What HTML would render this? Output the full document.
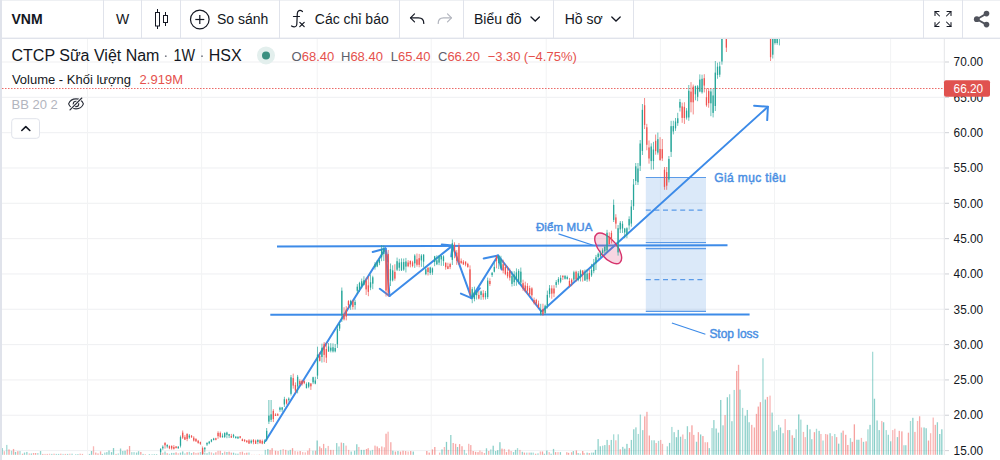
<!DOCTYPE html>
<html><head><meta charset="utf-8">
<style>
html,body{margin:0;padding:0;background:#fff;overflow:hidden;}
svg{display:block;}
text{font-family:"Liberation Sans",sans-serif;}
.tb{font-size:14px;fill:#131722;}
.ax{font-size:12.8px;fill:#131722;}
.lg{font-size:13px;fill:#131722;}
.red{fill:#e5514d;}
.gray{fill:#5d606b;}
.dr{font-size:12px;fill:#4a8fe3;stroke:#4a8fe3;stroke-width:0.45px;}
</style></head>
<body>
<svg width="1000" height="460" viewBox="0 0 1000 460">
<rect x="0" y="0" width="1000" height="460" fill="#ffffff"/>
<defs><clipPath id="cc"><rect x="2" y="39" width="942.5" height="416"/></clipPath></defs>
<g clip-path="url(#cc)">
<rect x="2" y="61.45" width="943" height="1.1" fill="#f0f1f3"/>
<rect x="2" y="96.78" width="943" height="1.1" fill="#f0f1f3"/>
<rect x="2" y="132.1" width="943" height="1.1" fill="#f0f1f3"/>
<rect x="2" y="167.43" width="943" height="1.1" fill="#f0f1f3"/>
<rect x="2" y="202.75" width="943" height="1.1" fill="#f0f1f3"/>
<rect x="2" y="238.07" width="943" height="1.1" fill="#f0f1f3"/>
<rect x="2" y="273.4" width="943" height="1.1" fill="#f0f1f3"/>
<rect x="2" y="308.72" width="943" height="1.1" fill="#f0f1f3"/>
<rect x="2" y="344.05" width="943" height="1.1" fill="#f0f1f3"/>
<rect x="2" y="379.38" width="943" height="1.1" fill="#f0f1f3"/>
<rect x="2" y="414.7" width="943" height="1.1" fill="#f0f1f3"/>
<rect x="2" y="450.03" width="943" height="1.1" fill="#f0f1f3"/>
<rect x="87" y="39" width="1" height="416" fill="#f2f3f4"/>
<rect x="201.1" y="39" width="1" height="416" fill="#f2f3f4"/>
<rect x="316.7" y="39" width="1" height="416" fill="#f2f3f4"/>
<rect x="430.7" y="39" width="1" height="416" fill="#f2f3f4"/>
<rect x="545.7" y="39" width="1" height="416" fill="#f2f3f4"/>
<rect x="659.9" y="39" width="1" height="416" fill="#f2f3f4"/>
<rect x="774" y="39" width="1" height="416" fill="#f2f3f4"/>
<rect x="890.1" y="39" width="1" height="416" fill="#f2f3f4"/>
<g><rect x="159.95" y="453.43" width="1.3" height="1.37" fill="#ef5350" fill-opacity="0.5"/>
<rect x="162.16" y="452.72" width="1.3" height="2.08" fill="#ef5350" fill-opacity="0.42"/>
<rect x="164.37" y="451.56" width="1.3" height="3.24" fill="#26a69a" fill-opacity="0.5"/>
<rect x="166.58" y="453.23" width="1.3" height="1.57" fill="#ef5350" fill-opacity="0.55"/>
<rect x="168.79" y="453.74" width="1.3" height="1.06" fill="#26a69a" fill-opacity="0.42"/>
<rect x="171" y="452.91" width="1.3" height="1.89" fill="#26a69a" fill-opacity="0.5"/>
<rect x="173.21" y="452.91" width="1.3" height="1.89" fill="#26a69a" fill-opacity="0.5"/>
<rect x="175.42" y="452.34" width="1.3" height="2.46" fill="#ef5350" fill-opacity="0.55"/>
<rect x="177.63" y="453.29" width="1.3" height="1.51" fill="#ef5350" fill-opacity="0.42"/>
<rect x="179.84" y="452.61" width="1.3" height="2.19" fill="#26a69a" fill-opacity="0.55"/>
<rect x="182.05" y="451.46" width="1.3" height="3.34" fill="#26a69a" fill-opacity="0.55"/>
<rect x="184.26" y="453.43" width="1.3" height="1.37" fill="#26a69a" fill-opacity="0.42"/>
<rect x="186.47" y="452.2" width="1.3" height="2.6" fill="#ef5350" fill-opacity="0.55"/>
<rect x="188.68" y="451.84" width="1.3" height="2.96" fill="#26a69a" fill-opacity="0.42"/>
<rect x="190.89" y="453.14" width="1.3" height="1.66" fill="#26a69a" fill-opacity="0.55"/>
<rect x="193.1" y="452.19" width="1.3" height="2.61" fill="#ef5350" fill-opacity="0.5"/>
<rect x="195.31" y="452.92" width="1.3" height="1.88" fill="#ef5350" fill-opacity="0.42"/>
<rect x="197.52" y="452.69" width="1.3" height="2.11" fill="#ef5350" fill-opacity="0.5"/>
<rect x="199.73" y="451.97" width="1.3" height="2.83" fill="#26a69a" fill-opacity="0.42"/>
<rect x="201.94" y="451.54" width="1.3" height="3.26" fill="#26a69a" fill-opacity="0.55"/>
<rect x="204.15" y="452.47" width="1.3" height="2.33" fill="#26a69a" fill-opacity="0.42"/>
<rect x="206.36" y="453.21" width="1.3" height="1.59" fill="#26a69a" fill-opacity="0.5"/>
<rect x="208.57" y="451.85" width="1.3" height="2.95" fill="#26a69a" fill-opacity="0.42"/>
<rect x="210.78" y="452.42" width="1.3" height="2.38" fill="#ef5350" fill-opacity="0.42"/>
<rect x="212.99" y="453.44" width="1.3" height="1.36" fill="#26a69a" fill-opacity="0.5"/>
<rect x="215.2" y="452.28" width="1.3" height="2.52" fill="#ef5350" fill-opacity="0.5"/>
<rect x="217.41" y="450.8" width="1.3" height="4" fill="#ef5350" fill-opacity="0.42"/>
<rect x="219.62" y="450.8" width="1.3" height="4" fill="#ef5350" fill-opacity="0.5"/>
<rect x="221.83" y="453.05" width="1.3" height="1.75" fill="#26a69a" fill-opacity="0.55"/>
<rect x="224.04" y="451.58" width="1.3" height="3.22" fill="#ef5350" fill-opacity="0.42"/>
<rect x="226.25" y="452.01" width="1.3" height="2.79" fill="#26a69a" fill-opacity="0.5"/>
<rect x="228.46" y="451.69" width="1.3" height="3.11" fill="#ef5350" fill-opacity="0.55"/>
<rect x="230.67" y="452.64" width="1.3" height="2.16" fill="#ef5350" fill-opacity="0.5"/>
<rect x="232.88" y="452.67" width="1.3" height="2.13" fill="#26a69a" fill-opacity="0.55"/>
<rect x="235.09" y="453.54" width="1.3" height="1.26" fill="#26a69a" fill-opacity="0.5"/>
<rect x="237.3" y="453.7" width="1.3" height="1.1" fill="#26a69a" fill-opacity="0.55"/>
<rect x="239.51" y="451.93" width="1.3" height="2.87" fill="#ef5350" fill-opacity="0.42"/>
<rect x="241.72" y="451.69" width="1.3" height="3.11" fill="#ef5350" fill-opacity="0.5"/>
<rect x="243.93" y="453.14" width="1.3" height="1.66" fill="#ef5350" fill-opacity="0.42"/>
<rect x="246.14" y="452.71" width="1.3" height="2.09" fill="#ef5350" fill-opacity="0.55"/>
<rect x="248.35" y="452.49" width="1.3" height="2.31" fill="#26a69a" fill-opacity="0.42"/>
<rect x="1.6" y="448.06" width="1.3" height="6.74" fill="#26a69a" fill-opacity="0.5"/>
<rect x="3.67" y="451.22" width="1.3" height="3.58" fill="#ef5350" fill-opacity="0.42"/>
<rect x="6.11" y="444.91" width="1.3" height="9.89" fill="#26a69a" fill-opacity="0.42"/>
<rect x="8.36" y="449.41" width="1.3" height="5.39" fill="#ef5350" fill-opacity="0.55"/>
<rect x="10.88" y="450.77" width="1.3" height="4.03" fill="#26a69a" fill-opacity="0.42"/>
<rect x="12.86" y="448.96" width="1.3" height="5.84" fill="#ef5350" fill-opacity="0.5"/>
<rect x="14.85" y="451.94" width="1.3" height="2.86" fill="#26a69a" fill-opacity="0.55"/>
<rect x="17.19" y="451.22" width="1.3" height="3.58" fill="#ef5350" fill-opacity="0.55"/>
<rect x="19.35" y="451.04" width="1.3" height="3.76" fill="#26a69a" fill-opacity="0.42"/>
<rect x="21.87" y="453.74" width="1.3" height="1.06" fill="#ef5350" fill-opacity="0.55"/>
<rect x="23.85" y="452.57" width="1.3" height="2.23" fill="#26a69a" fill-opacity="0.5"/>
<rect x="26.2" y="451.94" width="1.3" height="2.86" fill="#26a69a" fill-opacity="0.5"/>
<rect x="28.63" y="453.47" width="1.3" height="1.33" fill="#ef5350" fill-opacity="0.42"/>
<rect x="30.7" y="453.47" width="1.3" height="1.33" fill="#26a69a" fill-opacity="0.5"/>
<rect x="32.86" y="453.02" width="1.3" height="1.78" fill="#ef5350" fill-opacity="0.5"/>
<rect x="34.94" y="453.02" width="1.3" height="1.78" fill="#ef5350" fill-opacity="0.55"/>
<rect x="37.19" y="453.02" width="1.3" height="1.78" fill="#26a69a" fill-opacity="0.42"/>
<rect x="39.89" y="451.04" width="1.3" height="3.76" fill="#26a69a" fill-opacity="0.5"/>
<rect x="42.14" y="453.92" width="1.3" height="0.88" fill="#ef5350" fill-opacity="0.55"/>
<rect x="44.4" y="453.92" width="1.3" height="0.88" fill="#ef5350" fill-opacity="0.42"/>
<rect x="46.65" y="453.92" width="1.3" height="0.88" fill="#ef5350" fill-opacity="0.5"/>
<rect x="48.9" y="453.74" width="1.3" height="1.06" fill="#ef5350" fill-opacity="0.42"/>
<rect x="51.15" y="453.92" width="1.3" height="0.88" fill="#26a69a" fill-opacity="0.5"/>
<rect x="53.4" y="453.74" width="1.3" height="1.06" fill="#ef5350" fill-opacity="0.5"/>
<rect x="55.66" y="453.92" width="1.3" height="0.88" fill="#26a69a" fill-opacity="0.5"/>
<rect x="57.91" y="453.92" width="1.3" height="0.88" fill="#26a69a" fill-opacity="0.55"/>
<rect x="60.16" y="453.74" width="1.3" height="1.06" fill="#ef5350" fill-opacity="0.55"/>
<rect x="62.41" y="453.92" width="1.3" height="0.88" fill="#26a69a" fill-opacity="0.42"/>
<rect x="64.67" y="453.92" width="1.3" height="0.88" fill="#ef5350" fill-opacity="0.5"/>
<rect x="66.92" y="453.92" width="1.3" height="0.88" fill="#26a69a" fill-opacity="0.55"/>
<rect x="69.17" y="453.74" width="1.3" height="1.06" fill="#ef5350" fill-opacity="0.42"/>
<rect x="71.42" y="453.74" width="1.3" height="1.06" fill="#26a69a" fill-opacity="0.5"/>
<rect x="75.03" y="454.1" width="1.3" height="0.7" fill="#26a69a" fill-opacity="0.42"/>
<rect x="77.28" y="454.1" width="1.3" height="0.7" fill="#26a69a" fill-opacity="0.55"/>
<rect x="79.53" y="453.74" width="1.3" height="1.06" fill="#ef5350" fill-opacity="0.55"/>
<rect x="81.78" y="453.92" width="1.3" height="0.88" fill="#ef5350" fill-opacity="0.55"/>
<rect x="88.81" y="453.92" width="1.3" height="0.88" fill="#26a69a" fill-opacity="0.55"/>
<rect x="90.88" y="451.04" width="1.3" height="3.76" fill="#26a69a" fill-opacity="0.55"/>
<rect x="92.86" y="446.26" width="1.3" height="8.54" fill="#ef5350" fill-opacity="0.42"/>
<rect x="95.12" y="452.57" width="1.3" height="2.23" fill="#ef5350" fill-opacity="0.5"/>
<rect x="97.37" y="453.47" width="1.3" height="1.33" fill="#ef5350" fill-opacity="0.55"/>
<rect x="99.89" y="451.4" width="1.3" height="3.4" fill="#ef5350" fill-opacity="0.5"/>
<rect x="101.69" y="453.92" width="1.3" height="0.88" fill="#26a69a" fill-opacity="0.55"/>
<rect x="104.12" y="452.57" width="1.3" height="2.23" fill="#26a69a" fill-opacity="0.42"/>
<rect x="106.2" y="452.12" width="1.3" height="2.68" fill="#26a69a" fill-opacity="0.5"/>
<rect x="108.36" y="450.5" width="1.3" height="4.3" fill="#26a69a" fill-opacity="0.55"/>
<rect x="110.88" y="452.12" width="1.3" height="2.68" fill="#26a69a" fill-opacity="0.55"/>
<rect x="112.86" y="448.06" width="1.3" height="6.74" fill="#26a69a" fill-opacity="0.55"/>
<rect x="115.39" y="453.92" width="1.3" height="0.88" fill="#ef5350" fill-opacity="0.5"/>
<rect x="117.64" y="453.47" width="1.3" height="1.33" fill="#26a69a" fill-opacity="0.42"/>
<rect x="119.89" y="448.51" width="1.3" height="6.29" fill="#26a69a" fill-opacity="0.5"/>
<rect x="122.14" y="451.04" width="1.3" height="3.76" fill="#26a69a" fill-opacity="0.5"/>
<rect x="124.4" y="450.77" width="1.3" height="4.03" fill="#26a69a" fill-opacity="0.55"/>
<rect x="126.65" y="449.41" width="1.3" height="5.39" fill="#ef5350" fill-opacity="0.5"/>
<rect x="128.9" y="445.99" width="1.3" height="8.81" fill="#ef5350" fill-opacity="0.55"/>
<rect x="131.15" y="452.12" width="1.3" height="2.68" fill="#26a69a" fill-opacity="0.42"/>
<rect x="133.4" y="452.12" width="1.3" height="2.68" fill="#26a69a" fill-opacity="0.42"/>
<rect x="135.93" y="452.57" width="1.3" height="2.23" fill="#26a69a" fill-opacity="0.5"/>
<rect x="137.91" y="451.22" width="1.3" height="3.58" fill="#26a69a" fill-opacity="0.5"/>
<rect x="140.16" y="451.94" width="1.3" height="2.86" fill="#ef5350" fill-opacity="0.55"/>
<rect x="142.41" y="453.92" width="1.3" height="0.88" fill="#26a69a" fill-opacity="0.55"/>
<rect x="144.67" y="454.1" width="1.3" height="0.7" fill="#ef5350" fill-opacity="0.42"/>
<rect x="148.72" y="454.1" width="1.3" height="0.7" fill="#26a69a" fill-opacity="0.55"/>
<rect x="151.42" y="454.1" width="1.3" height="0.7" fill="#26a69a" fill-opacity="0.42"/>
<rect x="153.67" y="454.1" width="1.3" height="0.7" fill="#26a69a" fill-opacity="0.5"/>
<rect x="155.93" y="454.1" width="1.3" height="0.7" fill="#26a69a" fill-opacity="0.5"/>
<rect x="251.05" y="454.63" width="1.3" height="0.17" fill="#ef5350" fill-opacity="0.55"/>
<rect x="253.6" y="454.63" width="1.3" height="0.17" fill="#ef5350" fill-opacity="0.55"/>
<rect x="256.15" y="454.63" width="1.3" height="0.17" fill="#26a69a" fill-opacity="0.42"/>
<rect x="258.7" y="454.46" width="1.3" height="0.34" fill="#ef5350" fill-opacity="0.55"/>
<rect x="261.25" y="454.63" width="1.3" height="0.17" fill="#26a69a" fill-opacity="0.42"/>
<rect x="264.66" y="449.86" width="1.3" height="4.94" fill="#26a69a" fill-opacity="0.42"/>
<rect x="267.21" y="449.01" width="1.3" height="5.79" fill="#26a69a" fill-opacity="0.55"/>
<rect x="269.42" y="449.86" width="1.3" height="4.94" fill="#ef5350" fill-opacity="0.5"/>
<rect x="271.46" y="448.16" width="1.3" height="6.64" fill="#ef5350" fill-opacity="0.55"/>
<rect x="274.86" y="450.71" width="1.3" height="4.09" fill="#ef5350" fill-opacity="0.55"/>
<rect x="277.41" y="451.05" width="1.3" height="3.75" fill="#ef5350" fill-opacity="0.5"/>
<rect x="279.96" y="449.86" width="1.3" height="4.94" fill="#26a69a" fill-opacity="0.42"/>
<rect x="282.51" y="449.01" width="1.3" height="5.79" fill="#ef5350" fill-opacity="0.42"/>
<rect x="285.06" y="449.86" width="1.3" height="4.94" fill="#ef5350" fill-opacity="0.5"/>
<rect x="287.62" y="450.71" width="1.3" height="4.09" fill="#26a69a" fill-opacity="0.42"/>
<rect x="289.66" y="449.86" width="1.3" height="4.94" fill="#26a69a" fill-opacity="0.5"/>
<rect x="291.87" y="448.16" width="1.3" height="6.64" fill="#ef5350" fill-opacity="0.55"/>
<rect x="294.42" y="451.05" width="1.3" height="3.75" fill="#ef5350" fill-opacity="0.42"/>
<rect x="296.97" y="451.56" width="1.3" height="3.24" fill="#ef5350" fill-opacity="0.42"/>
<rect x="299.52" y="451.05" width="1.3" height="3.75" fill="#ef5350" fill-opacity="0.55"/>
<rect x="302.07" y="452.07" width="1.3" height="2.73" fill="#ef5350" fill-opacity="0.42"/>
<rect x="304.62" y="452.41" width="1.3" height="2.39" fill="#ef5350" fill-opacity="0.42"/>
<rect x="307.17" y="450.71" width="1.3" height="4.09" fill="#ef5350" fill-opacity="0.5"/>
<rect x="308.87" y="448.16" width="1.3" height="6.64" fill="#ef5350" fill-opacity="0.42"/>
<rect x="312.28" y="450.71" width="1.3" height="4.09" fill="#26a69a" fill-opacity="0.42"/>
<rect x="314.83" y="450.71" width="1.3" height="4.09" fill="#ef5350" fill-opacity="0.5"/>
<rect x="316.53" y="440.51" width="1.3" height="14.29" fill="#26a69a" fill-opacity="0.55"/>
<rect x="319.08" y="446.46" width="1.3" height="8.34" fill="#ef5350" fill-opacity="0.5"/>
<rect x="320.78" y="448.16" width="1.3" height="6.64" fill="#ef5350" fill-opacity="0.5"/>
<rect x="322.99" y="443.91" width="1.3" height="10.89" fill="#ef5350" fill-opacity="0.5"/>
<rect x="325.03" y="448.16" width="1.3" height="6.64" fill="#26a69a" fill-opacity="0.42"/>
<rect x="327.58" y="445.95" width="1.3" height="8.85" fill="#ef5350" fill-opacity="0.42"/>
<rect x="330.13" y="449.86" width="1.3" height="4.94" fill="#ef5350" fill-opacity="0.55"/>
<rect x="332.68" y="449.86" width="1.3" height="4.94" fill="#ef5350" fill-opacity="0.42"/>
<rect x="336.08" y="443.06" width="1.3" height="11.74" fill="#26a69a" fill-opacity="0.5"/>
<rect x="338.3" y="446.46" width="1.3" height="8.34" fill="#26a69a" fill-opacity="0.42"/>
<rect x="340.68" y="442.55" width="1.3" height="12.25" fill="#ef5350" fill-opacity="0.5"/>
<rect x="342.89" y="443.06" width="1.3" height="11.74" fill="#26a69a" fill-opacity="0.5"/>
<rect x="345.44" y="445.61" width="1.3" height="9.19" fill="#ef5350" fill-opacity="0.42"/>
<rect x="347.99" y="449.86" width="1.3" height="4.94" fill="#ef5350" fill-opacity="0.42"/>
<rect x="350.54" y="451.56" width="1.3" height="3.24" fill="#26a69a" fill-opacity="0.5"/>
<rect x="353.94" y="450.71" width="1.3" height="4.09" fill="#26a69a" fill-opacity="0.5"/>
<rect x="356.15" y="444.25" width="1.3" height="10.55" fill="#26a69a" fill-opacity="0.55"/>
<rect x="358.19" y="446.97" width="1.3" height="7.83" fill="#ef5350" fill-opacity="0.42"/>
<rect x="360.74" y="449.86" width="1.3" height="4.94" fill="#26a69a" fill-opacity="0.55"/>
<rect x="363.3" y="449.86" width="1.3" height="4.94" fill="#26a69a" fill-opacity="0.55"/>
<rect x="365.85" y="449.01" width="1.3" height="5.79" fill="#ef5350" fill-opacity="0.5"/>
<rect x="367.55" y="448.16" width="1.3" height="6.64" fill="#ef5350" fill-opacity="0.5"/>
<rect x="369.76" y="450.71" width="1.3" height="4.09" fill="#26a69a" fill-opacity="0.42"/>
<rect x="371.8" y="449.86" width="1.3" height="4.94" fill="#26a69a" fill-opacity="0.42"/>
<rect x="374.35" y="445.61" width="1.3" height="9.19" fill="#ef5350" fill-opacity="0.5"/>
<rect x="376.56" y="446.46" width="1.3" height="8.34" fill="#ef5350" fill-opacity="0.55"/>
<rect x="378.6" y="448.16" width="1.3" height="6.64" fill="#ef5350" fill-opacity="0.55"/>
<rect x="381.15" y="446.46" width="1.3" height="8.34" fill="#ef5350" fill-opacity="0.5"/>
<rect x="383.7" y="447.31" width="1.3" height="7.49" fill="#ef5350" fill-opacity="0.42"/>
<rect x="385.4" y="433.71" width="1.3" height="21.09" fill="#ef5350" fill-opacity="0.55"/>
<rect x="387.45" y="431.67" width="1.3" height="23.13" fill="#ef5350" fill-opacity="0.42"/>
<rect x="390.17" y="442.21" width="1.3" height="12.59" fill="#ef5350" fill-opacity="0.5"/>
<rect x="392.21" y="450.71" width="1.3" height="4.09" fill="#26a69a" fill-opacity="0.55"/>
<rect x="394.76" y="451.56" width="1.3" height="3.24" fill="#ef5350" fill-opacity="0.55"/>
<rect x="397.31" y="451.05" width="1.3" height="3.75" fill="#26a69a" fill-opacity="0.55"/>
<rect x="399.86" y="451.56" width="1.3" height="3.24" fill="#ef5350" fill-opacity="0.55"/>
<rect x="402.41" y="450.71" width="1.3" height="4.09" fill="#ef5350" fill-opacity="0.55"/>
<rect x="404.96" y="451.05" width="1.3" height="3.75" fill="#ef5350" fill-opacity="0.5"/>
<rect x="407.51" y="451.56" width="1.3" height="3.24" fill="#ef5350" fill-opacity="0.42"/>
<rect x="410.06" y="451.05" width="1.3" height="3.75" fill="#ef5350" fill-opacity="0.55"/>
<rect x="412.62" y="451.56" width="1.3" height="3.24" fill="#26a69a" fill-opacity="0.55"/>
<rect x="426.15" y="451" width="1.3" height="3.8" fill="#ef5350" fill-opacity="0.55"/>
<rect x="428.55" y="452.6" width="1.3" height="2.2" fill="#ef5350" fill-opacity="0.55"/>
<rect x="431.75" y="449.4" width="1.3" height="5.4" fill="#ef5350" fill-opacity="0.55"/>
<rect x="434.15" y="447" width="1.3" height="7.8" fill="#ef5350" fill-opacity="0.55"/>
<rect x="438.95" y="452.6" width="1.3" height="2.2" fill="#ef5350" fill-opacity="0.42"/>
<rect x="441.35" y="449.4" width="1.3" height="5.4" fill="#26a69a" fill-opacity="0.55"/>
<rect x="443.75" y="447" width="1.3" height="7.8" fill="#ef5350" fill-opacity="0.42"/>
<rect x="445.83" y="441.88" width="1.3" height="12.92" fill="#26a69a" fill-opacity="0.55"/>
<rect x="447.75" y="449.88" width="1.3" height="4.92" fill="#ef5350" fill-opacity="0.42"/>
<rect x="450.15" y="435" width="1.3" height="19.8" fill="#26a69a" fill-opacity="0.5"/>
<rect x="452.55" y="443" width="1.3" height="11.8" fill="#ef5350" fill-opacity="0.5"/>
<rect x="454.95" y="443.8" width="1.3" height="11" fill="#ef5350" fill-opacity="0.5"/>
<rect x="456.87" y="447" width="1.3" height="7.8" fill="#26a69a" fill-opacity="0.5"/>
<rect x="458.95" y="444.12" width="1.3" height="10.68" fill="#ef5350" fill-opacity="0.55"/>
<rect x="461.35" y="446.2" width="1.3" height="8.6" fill="#ef5350" fill-opacity="0.55"/>
<rect x="463.75" y="449.88" width="1.3" height="4.92" fill="#26a69a" fill-opacity="0.42"/>
<rect x="465.67" y="453.4" width="1.3" height="1.4" fill="#26a69a" fill-opacity="0.5"/>
<rect x="468.07" y="443.8" width="1.3" height="11" fill="#ef5350" fill-opacity="0.42"/>
<rect x="470.15" y="445.08" width="1.3" height="9.72" fill="#ef5350" fill-opacity="0.5"/>
<rect x="472.55" y="451" width="1.3" height="3.8" fill="#ef5350" fill-opacity="0.55"/>
<rect x="474.95" y="451.8" width="1.3" height="3" fill="#ef5350" fill-opacity="0.55"/>
<rect x="477.35" y="452.12" width="1.3" height="2.68" fill="#ef5350" fill-opacity="0.55"/>
<rect x="479.27" y="450.52" width="1.3" height="4.28" fill="#ef5350" fill-opacity="0.42"/>
<rect x="481.35" y="451.8" width="1.3" height="3" fill="#ef5350" fill-opacity="0.5"/>
<rect x="483.75" y="453.08" width="1.3" height="1.72" fill="#ef5350" fill-opacity="0.5"/>
<rect x="485.83" y="448.28" width="1.3" height="6.52" fill="#26a69a" fill-opacity="0.5"/>
<rect x="488.07" y="451" width="1.3" height="3.8" fill="#ef5350" fill-opacity="0.5"/>
<rect x="490.15" y="449.4" width="1.3" height="5.4" fill="#26a69a" fill-opacity="0.42"/>
<rect x="492.55" y="445.72" width="1.3" height="9.08" fill="#26a69a" fill-opacity="0.55"/>
<rect x="494.95" y="451" width="1.3" height="3.8" fill="#26a69a" fill-opacity="0.5"/>
<rect x="497.03" y="450.2" width="1.3" height="4.6" fill="#26a69a" fill-opacity="0.55"/>
<rect x="499.27" y="442.2" width="1.3" height="12.6" fill="#26a69a" fill-opacity="0.55"/>
<rect x="501.35" y="448.6" width="1.3" height="6.2" fill="#ef5350" fill-opacity="0.55"/>
<rect x="503.75" y="448.92" width="1.3" height="5.88" fill="#ef5350" fill-opacity="0.42"/>
<rect x="505.83" y="452.12" width="1.3" height="2.68" fill="#ef5350" fill-opacity="0.55"/>
<rect x="508.23" y="449.4" width="1.3" height="5.4" fill="#ef5350" fill-opacity="0.5"/>
<rect x="510.47" y="451" width="1.3" height="3.8" fill="#ef5350" fill-opacity="0.42"/>
<rect x="512.87" y="452.12" width="1.3" height="2.68" fill="#26a69a" fill-opacity="0.5"/>
<rect x="514.95" y="449.88" width="1.3" height="4.92" fill="#26a69a" fill-opacity="0.5"/>
<rect x="516.87" y="448.12" width="1.3" height="6.68" fill="#26a69a" fill-opacity="0.42"/>
<rect x="519.27" y="449.88" width="1.3" height="4.92" fill="#ef5350" fill-opacity="0.42"/>
<rect x="521.67" y="451.8" width="1.3" height="3" fill="#26a69a" fill-opacity="0.5"/>
<rect x="523.75" y="452.6" width="1.3" height="2.2" fill="#ef5350" fill-opacity="0.55"/>
<rect x="526.15" y="452.6" width="1.3" height="2.2" fill="#26a69a" fill-opacity="0.42"/>
<rect x="528.55" y="452.6" width="1.3" height="2.2" fill="#ef5350" fill-opacity="0.42"/>
<rect x="530.47" y="452.6" width="1.3" height="2.2" fill="#26a69a" fill-opacity="0.55"/>
<rect x="532.55" y="452.6" width="1.3" height="2.2" fill="#26a69a" fill-opacity="0.42"/>
<rect x="534.95" y="453.72" width="1.3" height="1.08" fill="#ef5350" fill-opacity="0.55"/>
<rect x="537.35" y="453.4" width="1.3" height="1.4" fill="#26a69a" fill-opacity="0.5"/>
<rect x="539.75" y="451.48" width="1.3" height="3.32" fill="#ef5350" fill-opacity="0.42"/>
<rect x="541.83" y="451.48" width="1.3" height="3.32" fill="#ef5350" fill-opacity="0.55"/>
<rect x="543.75" y="453.72" width="1.3" height="1.08" fill="#26a69a" fill-opacity="0.5"/>
<rect x="546.15" y="450.52" width="1.3" height="4.28" fill="#26a69a" fill-opacity="0.55"/>
<rect x="548.55" y="452.12" width="1.3" height="2.68" fill="#ef5350" fill-opacity="0.42"/>
<rect x="550.47" y="453.72" width="1.3" height="1.08" fill="#26a69a" fill-opacity="0.55"/>
<rect x="552.87" y="448.92" width="1.3" height="5.88" fill="#26a69a" fill-opacity="0.5"/>
<rect x="554.95" y="452.12" width="1.3" height="2.68" fill="#ef5350" fill-opacity="0.55"/>
<rect x="557.35" y="452.12" width="1.3" height="2.68" fill="#ef5350" fill-opacity="0.42"/>
<rect x="559.75" y="452.12" width="1.3" height="2.68" fill="#26a69a" fill-opacity="0.55"/>
<rect x="566.14" y="452.25" width="1.3" height="2.55" fill="#ef5350" fill-opacity="0.5"/>
<rect x="567.94" y="452.85" width="1.3" height="1.95" fill="#ef5350" fill-opacity="0.55"/>
<rect x="570.93" y="452.25" width="1.3" height="2.55" fill="#ef5350" fill-opacity="0.5"/>
<rect x="572.72" y="451.05" width="1.3" height="3.75" fill="#26a69a" fill-opacity="0.5"/>
<rect x="575.71" y="450.45" width="1.3" height="4.35" fill="#ef5350" fill-opacity="0.55"/>
<rect x="577.51" y="453.09" width="1.3" height="1.71" fill="#26a69a" fill-opacity="0.5"/>
<rect x="579.66" y="453.44" width="1.3" height="1.36" fill="#26a69a" fill-opacity="0.42"/>
<rect x="582.05" y="451.05" width="1.3" height="3.75" fill="#ef5350" fill-opacity="0.55"/>
<rect x="583.49" y="453.09" width="1.3" height="1.71" fill="#ef5350" fill-opacity="0.42"/>
<rect x="586.48" y="452.61" width="1.3" height="2.19" fill="#26a69a" fill-opacity="0.5"/>
<rect x="588.63" y="453.09" width="1.3" height="1.71" fill="#ef5350" fill-opacity="0.55"/>
<rect x="590.91" y="452.61" width="1.3" height="2.19" fill="#26a69a" fill-opacity="0.42"/>
<rect x="592.82" y="452.61" width="1.3" height="2.19" fill="#26a69a" fill-opacity="0.55"/>
<rect x="594.85" y="449.86" width="1.3" height="4.94" fill="#26a69a" fill-opacity="0.55"/>
<rect x="597.48" y="439.09" width="1.3" height="15.71" fill="#26a69a" fill-opacity="0.5"/>
<rect x="599.64" y="446.27" width="1.3" height="8.53" fill="#26a69a" fill-opacity="0.55"/>
<rect x="602.03" y="445.67" width="1.3" height="9.13" fill="#26a69a" fill-opacity="0.42"/>
<rect x="604.18" y="445.07" width="1.3" height="9.73" fill="#26a69a" fill-opacity="0.5"/>
<rect x="606.46" y="439.93" width="1.3" height="14.87" fill="#26a69a" fill-opacity="0.5"/>
<rect x="608.61" y="445.07" width="1.3" height="9.73" fill="#ef5350" fill-opacity="0.5"/>
<rect x="610.64" y="439.93" width="1.3" height="14.87" fill="#26a69a" fill-opacity="0.5"/>
<rect x="613.03" y="434.31" width="1.3" height="20.49" fill="#26a69a" fill-opacity="0.42"/>
<rect x="615.19" y="440.29" width="1.3" height="14.51" fill="#ef5350" fill-opacity="0.42"/>
<rect x="617.58" y="434.31" width="1.3" height="20.49" fill="#26a69a" fill-opacity="0.42"/>
<rect x="619.61" y="449.26" width="1.3" height="5.54" fill="#ef5350" fill-opacity="0.5"/>
<rect x="622.13" y="446.87" width="1.3" height="7.93" fill="#26a69a" fill-opacity="0.5"/>
<rect x="624.16" y="448.66" width="1.3" height="6.14" fill="#26a69a" fill-opacity="0.55"/>
<rect x="626.31" y="443.88" width="1.3" height="10.92" fill="#26a69a" fill-opacity="0.55"/>
<rect x="628.7" y="448.06" width="1.3" height="6.74" fill="#ef5350" fill-opacity="0.55"/>
<rect x="630.74" y="439.93" width="1.3" height="14.87" fill="#26a69a" fill-opacity="0.5"/>
<rect x="633.13" y="429.28" width="1.3" height="25.52" fill="#26a69a" fill-opacity="0.55"/>
<rect x="635.28" y="427.37" width="1.3" height="27.43" fill="#26a69a" fill-opacity="0.5"/>
<rect x="637.68" y="433.95" width="1.3" height="20.85" fill="#26a69a" fill-opacity="0.42"/>
<rect x="639.71" y="414.57" width="1.3" height="40.23" fill="#26a69a" fill-opacity="0.42"/>
<rect x="642.1" y="430.12" width="1.3" height="24.68" fill="#26a69a" fill-opacity="0.5"/>
<rect x="644.13" y="416.36" width="1.3" height="38.44" fill="#ef5350" fill-opacity="0.55"/>
<rect x="646.29" y="411.82" width="1.3" height="42.98" fill="#ef5350" fill-opacity="0.5"/>
<rect x="648.68" y="435.5" width="1.3" height="19.3" fill="#ef5350" fill-opacity="0.55"/>
<rect x="651.07" y="440.29" width="1.3" height="14.51" fill="#26a69a" fill-opacity="0.42"/>
<rect x="653.46" y="440.29" width="1.3" height="14.51" fill="#26a69a" fill-opacity="0.5"/>
<rect x="655.5" y="443.04" width="1.3" height="11.76" fill="#ef5350" fill-opacity="0.5"/>
<rect x="657.89" y="440.89" width="1.3" height="13.91" fill="#26a69a" fill-opacity="0.42"/>
<rect x="660.04" y="439.93" width="1.3" height="14.87" fill="#ef5350" fill-opacity="0.42"/>
<rect x="661.84" y="443.88" width="1.3" height="10.92" fill="#ef5350" fill-opacity="0.42"/>
<rect x="666.66" y="446.32" width="1.3" height="8.48" fill="#26a69a" fill-opacity="0.42"/>
<rect x="668.94" y="442.9" width="1.3" height="11.9" fill="#26a69a" fill-opacity="0.55"/>
<rect x="671.22" y="426.92" width="1.3" height="27.88" fill="#26a69a" fill-opacity="0.42"/>
<rect x="673.51" y="432.17" width="1.3" height="22.63" fill="#26a69a" fill-opacity="0.5"/>
<rect x="675.79" y="437.19" width="1.3" height="17.61" fill="#26a69a" fill-opacity="0.55"/>
<rect x="677.61" y="429.89" width="1.3" height="24.91" fill="#26a69a" fill-opacity="0.55"/>
<rect x="679.9" y="436.74" width="1.3" height="18.06" fill="#26a69a" fill-opacity="0.55"/>
<rect x="682.18" y="434.45" width="1.3" height="20.35" fill="#ef5350" fill-opacity="0.42"/>
<rect x="684.46" y="439.02" width="1.3" height="15.78" fill="#26a69a" fill-opacity="0.42"/>
<rect x="686.75" y="426.23" width="1.3" height="28.57" fill="#26a69a" fill-opacity="0.5"/>
<rect x="689.03" y="432.17" width="1.3" height="22.63" fill="#ef5350" fill-opacity="0.55"/>
<rect x="691.31" y="425.32" width="1.3" height="29.48" fill="#ef5350" fill-opacity="0.55"/>
<rect x="693.14" y="434.91" width="1.3" height="19.89" fill="#ef5350" fill-opacity="0.5"/>
<rect x="695.88" y="441.76" width="1.3" height="13.04" fill="#26a69a" fill-opacity="0.5"/>
<rect x="697.71" y="432.17" width="1.3" height="22.63" fill="#ef5350" fill-opacity="0.5"/>
<rect x="699.99" y="434.45" width="1.3" height="20.35" fill="#26a69a" fill-opacity="0.55"/>
<rect x="702.27" y="436.05" width="1.3" height="18.75" fill="#ef5350" fill-opacity="0.55"/>
<rect x="704.56" y="442.21" width="1.3" height="12.59" fill="#ef5350" fill-opacity="0.42"/>
<rect x="706.84" y="442.21" width="1.3" height="12.59" fill="#ef5350" fill-opacity="0.5"/>
<rect x="708.67" y="448.15" width="1.3" height="6.65" fill="#26a69a" fill-opacity="0.5"/>
<rect x="711.4" y="428.06" width="1.3" height="26.74" fill="#26a69a" fill-opacity="0.42"/>
<rect x="713.23" y="420.07" width="1.3" height="34.73" fill="#26a69a" fill-opacity="0.5"/>
<rect x="715.51" y="428.52" width="1.3" height="26.28" fill="#26a69a" fill-opacity="0.55"/>
<rect x="717.8" y="432.63" width="1.3" height="22.17" fill="#26a69a" fill-opacity="0.5"/>
<rect x="720.08" y="399.98" width="1.3" height="54.82" fill="#26a69a" fill-opacity="0.55"/>
<rect x="722.36" y="425.32" width="1.3" height="29.48" fill="#26a69a" fill-opacity="0.5"/>
<rect x="724.42" y="415.05" width="1.3" height="39.75" fill="#ef5350" fill-opacity="0.5"/>
<rect x="726.7" y="397.24" width="1.3" height="57.56" fill="#26a69a" fill-opacity="0.55"/>
<rect x="728.98" y="394.27" width="1.3" height="60.53" fill="#26a69a" fill-opacity="0.42"/>
<rect x="731.27" y="421.21" width="1.3" height="33.59" fill="#26a69a" fill-opacity="0.5"/>
<rect x="733.55" y="389.93" width="1.3" height="64.87" fill="#26a69a" fill-opacity="0.42"/>
<rect x="736.06" y="370.98" width="1.3" height="83.82" fill="#ef5350" fill-opacity="0.55"/>
<rect x="737.89" y="364.82" width="1.3" height="89.98" fill="#ef5350" fill-opacity="0.5"/>
<rect x="739.35" y="389.61" width="1.3" height="65.19" fill="#26a69a" fill-opacity="0.5"/>
<rect x="741.96" y="407.89" width="1.3" height="46.91" fill="#26a69a" fill-opacity="0.42"/>
<rect x="744.57" y="415.72" width="1.3" height="39.08" fill="#26a69a" fill-opacity="0.55"/>
<rect x="746.66" y="409.97" width="1.3" height="44.83" fill="#26a69a" fill-opacity="0.5"/>
<rect x="748.49" y="422.25" width="1.3" height="32.55" fill="#26a69a" fill-opacity="0.5"/>
<rect x="751.1" y="424.86" width="1.3" height="29.94" fill="#ef5350" fill-opacity="0.5"/>
<rect x="753.71" y="427.47" width="1.3" height="27.33" fill="#ef5350" fill-opacity="0.5"/>
<rect x="755.8" y="413.89" width="1.3" height="40.91" fill="#ef5350" fill-opacity="0.5"/>
<rect x="757.63" y="406.58" width="1.3" height="48.22" fill="#ef5350" fill-opacity="0.55"/>
<rect x="759.72" y="402.14" width="1.3" height="52.66" fill="#ef5350" fill-opacity="0.55"/>
<rect x="762.33" y="358.28" width="1.3" height="96.52" fill="#26a69a" fill-opacity="0.42"/>
<rect x="764.68" y="399.53" width="1.3" height="55.27" fill="#26a69a" fill-opacity="0.55"/>
<rect x="766.77" y="396.92" width="1.3" height="57.88" fill="#ef5350" fill-opacity="0.5"/>
<rect x="769.38" y="395.61" width="1.3" height="59.19" fill="#ef5350" fill-opacity="0.42"/>
<rect x="771.46" y="412.58" width="1.3" height="42.22" fill="#26a69a" fill-opacity="0.5"/>
<rect x="773.29" y="431.38" width="1.3" height="23.42" fill="#26a69a" fill-opacity="0.5"/>
<rect x="775.9" y="430.08" width="1.3" height="24.72" fill="#26a69a" fill-opacity="0.42"/>
<rect x="777.99" y="424.86" width="1.3" height="29.94" fill="#26a69a" fill-opacity="0.42"/>
<rect x="779.82" y="427.47" width="1.3" height="27.33" fill="#26a69a" fill-opacity="0.55"/>
<rect x="782.43" y="433.21" width="1.3" height="21.59" fill="#26a69a" fill-opacity="0.5"/>
<rect x="784.52" y="419.11" width="1.3" height="35.69" fill="#ef5350" fill-opacity="0.42"/>
<rect x="787.13" y="430.08" width="1.3" height="24.72" fill="#ef5350" fill-opacity="0.55"/>
<rect x="788.96" y="430.08" width="1.3" height="24.72" fill="#26a69a" fill-opacity="0.5"/>
<rect x="791.57" y="435.3" width="1.3" height="19.5" fill="#ef5350" fill-opacity="0.55"/>
<rect x="793.66" y="437.91" width="1.3" height="16.89" fill="#26a69a" fill-opacity="0.55"/>
<rect x="795.49" y="429.3" width="1.3" height="25.5" fill="#26a69a" fill-opacity="0.42"/>
<rect x="798.1" y="414.41" width="1.3" height="40.39" fill="#26a69a" fill-opacity="0.55"/>
<rect x="800.19" y="419.63" width="1.3" height="35.17" fill="#26a69a" fill-opacity="0.42"/>
<rect x="802.8" y="431.91" width="1.3" height="22.89" fill="#ef5350" fill-opacity="0.42"/>
<rect x="804.62" y="437.13" width="1.3" height="17.67" fill="#ef5350" fill-opacity="0.42"/>
<rect x="806.71" y="424.86" width="1.3" height="29.94" fill="#26a69a" fill-opacity="0.55"/>
<rect x="809.32" y="429.3" width="1.3" height="25.5" fill="#26a69a" fill-opacity="0.5"/>
<rect x="811.15" y="439.22" width="1.3" height="15.58" fill="#26a69a" fill-opacity="0.5"/>
<rect x="813.76" y="432.17" width="1.3" height="22.63" fill="#ef5350" fill-opacity="0.55"/>
<rect x="815.85" y="428.77" width="1.3" height="26.03" fill="#26a69a" fill-opacity="0.42"/>
<rect x="818.46" y="430.86" width="1.3" height="23.94" fill="#26a69a" fill-opacity="0.55"/>
<rect x="820.29" y="433.99" width="1.3" height="20.81" fill="#ef5350" fill-opacity="0.42"/>
<rect x="822.38" y="440.52" width="1.3" height="14.28" fill="#26a69a" fill-opacity="0.42"/>
<rect x="824.99" y="433.99" width="1.3" height="20.81" fill="#ef5350" fill-opacity="0.42"/>
<rect x="826.82" y="434.52" width="1.3" height="20.28" fill="#ef5350" fill-opacity="0.5"/>
<rect x="829.43" y="433.21" width="1.3" height="21.59" fill="#26a69a" fill-opacity="0.5"/>
<rect x="831.52" y="436.08" width="1.3" height="18.72" fill="#ef5350" fill-opacity="0.42"/>
<rect x="834.13" y="433.99" width="1.3" height="20.81" fill="#26a69a" fill-opacity="0.42"/>
<rect x="835.96" y="437.13" width="1.3" height="17.67" fill="#ef5350" fill-opacity="0.5"/>
<rect x="838.04" y="443.66" width="1.3" height="11.14" fill="#26a69a" fill-opacity="0.55"/>
<rect x="840.66" y="432.69" width="1.3" height="22.11" fill="#26a69a" fill-opacity="0.42"/>
<rect x="842.48" y="430.6" width="1.3" height="24.2" fill="#ef5350" fill-opacity="0.55"/>
<rect x="845.09" y="434.78" width="1.3" height="20.02" fill="#ef5350" fill-opacity="0.55"/>
<rect x="847.18" y="444.96" width="1.3" height="9.84" fill="#ef5350" fill-opacity="0.55"/>
<rect x="849.79" y="438.17" width="1.3" height="16.63" fill="#26a69a" fill-opacity="0.42"/>
<rect x="851.62" y="441.83" width="1.3" height="12.97" fill="#ef5350" fill-opacity="0.55"/>
<rect x="853.71" y="424.33" width="1.3" height="30.47" fill="#ef5350" fill-opacity="0.55"/>
<rect x="856.32" y="439.74" width="1.3" height="15.06" fill="#26a69a" fill-opacity="0.55"/>
<rect x="858.15" y="439.74" width="1.3" height="15.06" fill="#26a69a" fill-opacity="0.5"/>
<rect x="860.76" y="437.91" width="1.3" height="16.89" fill="#ef5350" fill-opacity="0.42"/>
<rect x="862.85" y="441.83" width="1.3" height="12.97" fill="#26a69a" fill-opacity="0.5"/>
<rect x="865.46" y="441.31" width="1.3" height="13.49" fill="#ef5350" fill-opacity="0.55"/>
<rect x="867.29" y="429.3" width="1.3" height="25.5" fill="#26a69a" fill-opacity="0.42"/>
<rect x="869.38" y="424.86" width="1.3" height="29.94" fill="#26a69a" fill-opacity="0.55"/>
<rect x="871.99" y="351.75" width="1.3" height="103.05" fill="#26a69a" fill-opacity="0.42"/>
<rect x="873.81" y="398.75" width="1.3" height="56.05" fill="#26a69a" fill-opacity="0.55"/>
<rect x="876.43" y="420.42" width="1.3" height="34.38" fill="#26a69a" fill-opacity="0.5"/>
<rect x="878.51" y="430.08" width="1.3" height="24.72" fill="#26a69a" fill-opacity="0.55"/>
<rect x="881.13" y="420.94" width="1.3" height="33.86" fill="#ef5350" fill-opacity="0.42"/>
<rect x="882.95" y="422.25" width="1.3" height="32.55" fill="#26a69a" fill-opacity="0.55"/>
<rect x="885.56" y="430.08" width="1.3" height="24.72" fill="#26a69a" fill-opacity="0.42"/>
<rect x="887.65" y="434.78" width="1.3" height="20.02" fill="#26a69a" fill-opacity="0.5"/>
<rect x="890" y="441.31" width="1.3" height="13.49" fill="#26a69a" fill-opacity="0.5"/>
<rect x="892.09" y="430.08" width="1.3" height="24.72" fill="#ef5350" fill-opacity="0.42"/>
<rect x="894.18" y="428.77" width="1.3" height="26.03" fill="#ef5350" fill-opacity="0.42"/>
<rect x="896.79" y="437.13" width="1.3" height="17.67" fill="#26a69a" fill-opacity="0.5"/>
<rect x="898.62" y="430.86" width="1.3" height="23.94" fill="#ef5350" fill-opacity="0.5"/>
<rect x="901.23" y="431.38" width="1.3" height="23.42" fill="#ef5350" fill-opacity="0.55"/>
<rect x="903.32" y="445.22" width="1.3" height="9.58" fill="#26a69a" fill-opacity="0.42"/>
<rect x="905.15" y="445.22" width="1.3" height="9.58" fill="#26a69a" fill-opacity="0.5"/>
<rect x="907.76" y="432.69" width="1.3" height="22.11" fill="#ef5350" fill-opacity="0.5"/>
<rect x="909.85" y="420.94" width="1.3" height="33.86" fill="#26a69a" fill-opacity="0.42"/>
<rect x="912.2" y="417.81" width="1.3" height="36.99" fill="#26a69a" fill-opacity="0.55"/>
<rect x="914.28" y="431.91" width="1.3" height="22.89" fill="#ef5350" fill-opacity="0.5"/>
<rect x="916.9" y="420.94" width="1.3" height="33.86" fill="#ef5350" fill-opacity="0.42"/>
<rect x="918.98" y="416.24" width="1.3" height="38.56" fill="#ef5350" fill-opacity="0.5"/>
<rect x="920.81" y="427.47" width="1.3" height="27.33" fill="#ef5350" fill-opacity="0.42"/>
<rect x="923.42" y="427.47" width="1.3" height="27.33" fill="#26a69a" fill-opacity="0.55"/>
<rect x="925.51" y="428.25" width="1.3" height="26.55" fill="#26a69a" fill-opacity="0.55"/>
<rect x="927.86" y="440.52" width="1.3" height="14.28" fill="#ef5350" fill-opacity="0.55"/>
<rect x="929.95" y="433.21" width="1.3" height="21.59" fill="#ef5350" fill-opacity="0.42"/>
<rect x="932.56" y="417.55" width="1.3" height="37.25" fill="#ef5350" fill-opacity="0.42"/>
<rect x="934.65" y="424.86" width="1.3" height="29.94" fill="#ef5350" fill-opacity="0.5"/>
<rect x="936.74" y="422.25" width="1.3" height="32.55" fill="#26a69a" fill-opacity="0.5"/>
<rect x="939.09" y="433.99" width="1.3" height="20.81" fill="#26a69a" fill-opacity="0.55"/>
<rect x="941.18" y="429.3" width="1.3" height="25.5" fill="#26a69a" fill-opacity="0.55"/></g>
<line x1="2" y1="88.5" x2="944" y2="88.5" stroke="#ea5a56" stroke-width="1.1" stroke-dasharray="1.5,1.5" stroke-opacity="0.9"/>
<!-- drawings -->

<!-- target rect -->
<rect x="645.8" y="177.5" width="60.2" height="134" fill="#4a90e2" fill-opacity="0.2"/>
<g stroke="#5b9be8" stroke-width="1.2" fill="none">
<line x1="645.8" y1="177.5" x2="706" y2="177.5"/>
<line x1="645.8" y1="242.5" x2="706" y2="242.5"/>
<line x1="645.8" y1="248.6" x2="706" y2="248.6"/>
<line x1="645.8" y1="311.4" x2="706" y2="311.4"/>
<line x1="645.8" y1="210.2" x2="706" y2="210.2" stroke-dasharray="5,3.6"/>
<line x1="645.8" y1="279.7" x2="706" y2="279.7" stroke-dasharray="5,3.6"/>
</g>
<g stroke="#3d8be8" stroke-width="2" fill="none" stroke-linecap="round" stroke-linejoin="round">
<line x1="277" y1="246.4" x2="727.5" y2="245.3" stroke-linecap="butt"/>
<line x1="270.3" y1="314.8" x2="749.6" y2="314.4" stroke-linecap="butt"/>
<polyline points="265.5,441 385.5,248.5"/>
<polyline points="372.7,252 385.5,248.5 388,261.6"/>
<polyline points="385.5,248.5 389.5,296"/>
<polyline points="379.8,288.8 389.5,296 452.5,245.6"/>
<polyline points="441.8,244.4 452.5,245.6 451.3,256.3"/>
<polyline points="452.5,245.6 471.5,298.1"/>
<polyline points="460.9,293.6 471.5,298.1 479.9,288.2"/>
<polyline points="471.5,298.1 498.1,255.5"/>
<polyline points="483.7,258.6 498.1,255.5 501.6,269.6"/>
<polyline points="498.1,255.5 541.3,311.3"/>
<polyline points="542.3,311 767.9,106.7"/>
<polyline points="754.1,105.8 767.9,106.7 767.2,120.1"/>
</g>
<line x1="558.5" y1="233.9" x2="594.6" y2="245.7" stroke="#3d8be8" stroke-width="1.2"/>
<line x1="671.9" y1="323" x2="705.4" y2="334.3" stroke="#3d8be8" stroke-width="1.2"/>
<ellipse cx="608.2" cy="248.4" rx="18.4" ry="8.8" transform="rotate(51 608.2 248.4)" fill="#e0457a" fill-opacity="0.22" stroke="#d6336c" stroke-width="1.4"/>
<text x="535.9" y="230.9" class="dr" style="font-size:11.5px" textLength="56.5" lengthAdjust="spacing">Điểm MUA</text>
<text x="714.3" y="181.5" class="dr" textLength="71.4" lengthAdjust="spacing">Giá mục tiêu</text>
<text x="709.4" y="338.3" class="dr" textLength="49.1" lengthAdjust="spacing">Stop loss</text>
<g><rect x="160.15" y="448.27" width="0.9" height="6.6" fill="#26a69a" fill-opacity="0.75"/>
<rect x="159.95" y="448.85" width="1.3" height="3.47" fill="#26a69a"/>
<rect x="162.36" y="445.32" width="0.9" height="4.46" fill="#26a69a" fill-opacity="0.75"/>
<rect x="162.16" y="446.72" width="1.3" height="1.59" fill="#26a69a"/>
<rect x="164.57" y="442.03" width="0.9" height="6.6" fill="#ef5350" fill-opacity="0.75"/>
<rect x="164.37" y="443" width="1.3" height="2.25" fill="#ef5350"/>
<rect x="166.78" y="444.24" width="0.9" height="3.99" fill="#26a69a" fill-opacity="0.75"/>
<rect x="166.58" y="444.96" width="1.3" height="1.58" fill="#26a69a"/>
<rect x="168.99" y="445.35" width="0.9" height="3.81" fill="#ef5350" fill-opacity="0.75"/>
<rect x="168.79" y="446.08" width="1.3" height="2.22" fill="#ef5350"/>
<rect x="171.2" y="445.55" width="0.9" height="4.12" fill="#ef5350" fill-opacity="0.75"/>
<rect x="171" y="445.8" width="1.3" height="2.62" fill="#ef5350"/>
<rect x="173.41" y="445.08" width="0.9" height="4.55" fill="#ef5350" fill-opacity="0.75"/>
<rect x="173.21" y="447.03" width="1.3" height="1.84" fill="#ef5350"/>
<rect x="175.62" y="446.06" width="0.9" height="2.45" fill="#ef5350" fill-opacity="0.75"/>
<rect x="175.42" y="446.49" width="1.3" height="1.5" fill="#ef5350"/>
<rect x="177.83" y="446.02" width="0.9" height="2.66" fill="#26a69a" fill-opacity="0.75"/>
<rect x="177.63" y="446.81" width="1.3" height="1.5" fill="#26a69a"/>
<rect x="180.04" y="435.5" width="0.9" height="12" fill="#26a69a" fill-opacity="0.75"/>
<rect x="179.84" y="437.1" width="1.3" height="8.6" fill="#26a69a"/>
<rect x="182.25" y="430.51" width="0.9" height="8.46" fill="#ef5350" fill-opacity="0.75"/>
<rect x="182.05" y="432.63" width="1.3" height="5.01" fill="#ef5350"/>
<rect x="184.46" y="435.16" width="0.9" height="4.87" fill="#ef5350" fill-opacity="0.75"/>
<rect x="184.26" y="437.16" width="1.3" height="2.47" fill="#ef5350"/>
<rect x="186.67" y="433.47" width="0.9" height="7.73" fill="#ef5350" fill-opacity="0.75"/>
<rect x="186.47" y="433.79" width="1.3" height="5.23" fill="#ef5350"/>
<rect x="188.88" y="434.08" width="0.9" height="4.72" fill="#26a69a" fill-opacity="0.75"/>
<rect x="188.68" y="435.57" width="1.3" height="1.9" fill="#26a69a"/>
<rect x="191.09" y="435.01" width="0.9" height="2.75" fill="#ef5350" fill-opacity="0.75"/>
<rect x="190.89" y="435.77" width="1.3" height="1.59" fill="#ef5350"/>
<rect x="193.3" y="436.23" width="0.9" height="5.27" fill="#ef5350" fill-opacity="0.75"/>
<rect x="193.1" y="437.72" width="1.3" height="2.87" fill="#ef5350"/>
<rect x="195.51" y="438.25" width="0.9" height="3.58" fill="#ef5350" fill-opacity="0.75"/>
<rect x="195.31" y="438.88" width="1.3" height="2.47" fill="#ef5350"/>
<rect x="197.72" y="439.89" width="0.9" height="3.87" fill="#ef5350" fill-opacity="0.75"/>
<rect x="197.52" y="440.77" width="1.3" height="2.16" fill="#ef5350"/>
<rect x="199.93" y="441.59" width="0.9" height="3.31" fill="#ef5350" fill-opacity="0.75"/>
<rect x="199.73" y="442.18" width="1.3" height="1.63" fill="#ef5350"/>
<rect x="202.14" y="446.5" width="0.9" height="8.2" fill="#ef5350" fill-opacity="0.75"/>
<rect x="201.94" y="448.09" width="1.3" height="5.93" fill="#ef5350"/>
<rect x="204.35" y="447.28" width="0.9" height="4.62" fill="#26a69a" fill-opacity="0.75"/>
<rect x="204.15" y="447.64" width="1.3" height="1.68" fill="#26a69a"/>
<rect x="206.56" y="442.24" width="0.9" height="3.73" fill="#26a69a" fill-opacity="0.75"/>
<rect x="206.36" y="442.97" width="1.3" height="1.56" fill="#26a69a"/>
<rect x="208.77" y="440.93" width="0.9" height="3.31" fill="#26a69a" fill-opacity="0.75"/>
<rect x="208.57" y="441.66" width="1.3" height="1.63" fill="#26a69a"/>
<rect x="210.98" y="439.32" width="0.9" height="2.98" fill="#26a69a" fill-opacity="0.75"/>
<rect x="210.78" y="439.55" width="1.3" height="2.09" fill="#26a69a"/>
<rect x="213.19" y="437.83" width="0.9" height="2.45" fill="#26a69a" fill-opacity="0.75"/>
<rect x="212.99" y="438.58" width="1.3" height="1.53" fill="#26a69a"/>
<rect x="215.4" y="437.76" width="0.9" height="2.57" fill="#ef5350" fill-opacity="0.75"/>
<rect x="215.2" y="438.28" width="1.3" height="1.5" fill="#ef5350"/>
<rect x="217.61" y="431.25" width="0.9" height="7.55" fill="#ef5350" fill-opacity="0.75"/>
<rect x="217.41" y="432.86" width="1.3" height="3.32" fill="#ef5350"/>
<rect x="219.82" y="431.53" width="0.9" height="6.38" fill="#ef5350" fill-opacity="0.75"/>
<rect x="219.62" y="432.96" width="1.3" height="3.96" fill="#ef5350"/>
<rect x="222.03" y="433.37" width="0.9" height="4.22" fill="#26a69a" fill-opacity="0.75"/>
<rect x="221.83" y="435.68" width="1.3" height="1.58" fill="#26a69a"/>
<rect x="224.24" y="432.27" width="0.9" height="5.77" fill="#26a69a" fill-opacity="0.75"/>
<rect x="224.04" y="433.06" width="1.3" height="3.88" fill="#26a69a"/>
<rect x="226.45" y="431.69" width="0.9" height="6.56" fill="#26a69a" fill-opacity="0.75"/>
<rect x="226.25" y="432.55" width="1.3" height="2.29" fill="#26a69a"/>
<rect x="228.66" y="433.89" width="0.9" height="4.13" fill="#26a69a" fill-opacity="0.75"/>
<rect x="228.46" y="434.19" width="1.3" height="1.5" fill="#26a69a"/>
<rect x="230.87" y="433.85" width="0.9" height="4.15" fill="#ef5350" fill-opacity="0.75"/>
<rect x="230.67" y="436.06" width="1.3" height="1.5" fill="#ef5350"/>
<rect x="233.08" y="433.88" width="0.9" height="4.19" fill="#26a69a" fill-opacity="0.75"/>
<rect x="232.88" y="434.87" width="1.3" height="1.78" fill="#26a69a"/>
<rect x="235.29" y="436.29" width="0.9" height="2.18" fill="#26a69a" fill-opacity="0.75"/>
<rect x="235.09" y="436.63" width="1.3" height="1.5" fill="#26a69a"/>
<rect x="237.5" y="436.03" width="0.9" height="2.65" fill="#26a69a" fill-opacity="0.75"/>
<rect x="237.3" y="437.04" width="1.3" height="1.5" fill="#26a69a"/>
<rect x="239.71" y="436.01" width="0.9" height="2.47" fill="#ef5350" fill-opacity="0.75"/>
<rect x="239.51" y="436.31" width="1.3" height="1.5" fill="#ef5350"/>
<rect x="241.92" y="438.47" width="0.9" height="2.72" fill="#ef5350" fill-opacity="0.75"/>
<rect x="241.72" y="439.27" width="1.3" height="1.73" fill="#ef5350"/>
<rect x="244.13" y="439.48" width="0.9" height="2.58" fill="#ef5350" fill-opacity="0.75"/>
<rect x="243.93" y="439.57" width="1.3" height="1.5" fill="#ef5350"/>
<rect x="246.34" y="440.28" width="0.9" height="2.46" fill="#ef5350" fill-opacity="0.75"/>
<rect x="246.14" y="440.56" width="1.3" height="1.56" fill="#ef5350"/>
<rect x="248.55" y="439.14" width="0.9" height="4.64" fill="#ef5350" fill-opacity="0.75"/>
<rect x="248.35" y="440.45" width="1.3" height="3.16" fill="#ef5350"/>
<rect x="250.76" y="439.52" width="0.9" height="4.31" fill="#26a69a" fill-opacity="0.75"/>
<rect x="250.56" y="440.72" width="1.3" height="1.95" fill="#26a69a"/>
<rect x="252.97" y="439.02" width="0.9" height="5.26" fill="#ef5350" fill-opacity="0.75"/>
<rect x="252.77" y="440.1" width="1.3" height="2.03" fill="#ef5350"/>
<rect x="255.18" y="439.61" width="0.9" height="4.41" fill="#ef5350" fill-opacity="0.75"/>
<rect x="254.98" y="440.68" width="1.3" height="3.08" fill="#ef5350"/>
<rect x="257.39" y="439.23" width="0.9" height="4.93" fill="#26a69a" fill-opacity="0.75"/>
<rect x="257.19" y="439.98" width="1.3" height="1.95" fill="#26a69a"/>
<rect x="259.6" y="439.4" width="0.9" height="4.33" fill="#ef5350" fill-opacity="0.75"/>
<rect x="259.4" y="440.16" width="1.3" height="2.93" fill="#ef5350"/>
<rect x="261.81" y="439.51" width="0.9" height="4.74" fill="#ef5350" fill-opacity="0.75"/>
<rect x="261.61" y="440.99" width="1.3" height="2.64" fill="#ef5350"/>
<rect x="264.02" y="439.48" width="0.9" height="4.52" fill="#26a69a" fill-opacity="0.75"/>
<rect x="263.82" y="441.4" width="1.3" height="1.87" fill="#26a69a"/>
<rect x="266.23" y="428" width="0.9" height="13" fill="#26a69a" fill-opacity="0.75"/>
<rect x="266.03" y="430.81" width="1.3" height="7.63" fill="#26a69a"/>
<rect x="268.44" y="400" width="0.9" height="24" fill="#26a69a" fill-opacity="0.75"/>
<rect x="268.24" y="415.6" width="1.3" height="6" fill="#26a69a"/>
<rect x="270.65" y="400" width="0.9" height="22" fill="#26a69a" fill-opacity="0.75"/>
<rect x="270.45" y="414.3" width="1.3" height="5.5" fill="#26a69a"/>
<rect x="272.86" y="409.14" width="0.9" height="12.92" fill="#ef5350" fill-opacity="0.75"/>
<rect x="272.66" y="410.9" width="1.3" height="8.2" fill="#ef5350"/>
<rect x="275.07" y="413.2" width="0.9" height="2.76" fill="#ef5350" fill-opacity="0.75"/>
<rect x="274.87" y="414.45" width="1.3" height="1.5" fill="#ef5350"/>
<rect x="277.28" y="413.19" width="0.9" height="2.47" fill="#ef5350" fill-opacity="0.75"/>
<rect x="277.08" y="414.16" width="1.3" height="1.5" fill="#ef5350"/>
<rect x="279.49" y="406.74" width="0.9" height="5.1" fill="#26a69a" fill-opacity="0.75"/>
<rect x="279.29" y="407.68" width="1.3" height="2.09" fill="#26a69a"/>
<rect x="281.7" y="406.98" width="0.9" height="4.85" fill="#26a69a" fill-opacity="0.75"/>
<rect x="281.5" y="407.4" width="1.3" height="2.3" fill="#26a69a"/>
<rect x="283.91" y="396.81" width="0.9" height="10.18" fill="#26a69a" fill-opacity="0.75"/>
<rect x="283.71" y="399.24" width="1.3" height="5.25" fill="#26a69a"/>
<rect x="286.12" y="398.76" width="0.9" height="5.89" fill="#ef5350" fill-opacity="0.75"/>
<rect x="285.92" y="399.49" width="1.3" height="4.03" fill="#ef5350"/>
<rect x="288.33" y="397.32" width="0.9" height="4.37" fill="#26a69a" fill-opacity="0.75"/>
<rect x="288.13" y="398.59" width="1.3" height="1.53" fill="#26a69a"/>
<rect x="290.54" y="375" width="0.9" height="20.5" fill="#26a69a" fill-opacity="0.75"/>
<rect x="290.34" y="377.28" width="1.3" height="16.57" fill="#26a69a"/>
<rect x="292.75" y="373.63" width="0.9" height="15.02" fill="#ef5350" fill-opacity="0.75"/>
<rect x="292.55" y="378.11" width="1.3" height="7.51" fill="#ef5350"/>
<rect x="294.96" y="382.4" width="0.9" height="10.73" fill="#ef5350" fill-opacity="0.75"/>
<rect x="294.76" y="385.1" width="1.3" height="5.47" fill="#ef5350"/>
<rect x="297.17" y="374.94" width="0.9" height="18.4" fill="#26a69a" fill-opacity="0.75"/>
<rect x="296.97" y="376.76" width="1.3" height="9.64" fill="#26a69a"/>
<rect x="299.38" y="379.23" width="0.9" height="6.12" fill="#ef5350" fill-opacity="0.75"/>
<rect x="299.18" y="381.07" width="1.3" height="3.17" fill="#ef5350"/>
<rect x="301.59" y="379.77" width="0.9" height="5.86" fill="#ef5350" fill-opacity="0.75"/>
<rect x="301.39" y="380.82" width="1.3" height="3.39" fill="#ef5350"/>
<rect x="303.8" y="380.37" width="0.9" height="3.8" fill="#ef5350" fill-opacity="0.75"/>
<rect x="303.6" y="381.16" width="1.3" height="2.02" fill="#ef5350"/>
<rect x="306.01" y="382.44" width="0.9" height="5.94" fill="#26a69a" fill-opacity="0.75"/>
<rect x="305.81" y="383.99" width="1.3" height="4.17" fill="#26a69a"/>
<rect x="308.22" y="382.1" width="0.9" height="6.07" fill="#26a69a" fill-opacity="0.75"/>
<rect x="308.02" y="382.59" width="1.3" height="4.08" fill="#26a69a"/>
<rect x="310.43" y="382.99" width="0.9" height="6.94" fill="#ef5350" fill-opacity="0.75"/>
<rect x="310.23" y="383.57" width="1.3" height="2.75" fill="#ef5350"/>
<rect x="312.64" y="376.72" width="0.9" height="7.43" fill="#26a69a" fill-opacity="0.75"/>
<rect x="312.44" y="377.22" width="1.3" height="5.12" fill="#26a69a"/>
<rect x="314.85" y="376.77" width="0.9" height="7.51" fill="#26a69a" fill-opacity="0.75"/>
<rect x="314.65" y="380.53" width="1.3" height="3.09" fill="#26a69a"/>
<rect x="317.06" y="346.7" width="0.9" height="32.3" fill="#26a69a" fill-opacity="0.75"/>
<rect x="316.86" y="354.6" width="1.3" height="20.97" fill="#26a69a"/>
<rect x="319.27" y="352.26" width="0.9" height="9.22" fill="#ef5350" fill-opacity="0.75"/>
<rect x="319.07" y="355.95" width="1.3" height="4.91" fill="#ef5350"/>
<rect x="321.48" y="343.65" width="0.9" height="18.94" fill="#26a69a" fill-opacity="0.75"/>
<rect x="321.28" y="347.76" width="1.3" height="9.23" fill="#26a69a"/>
<rect x="323.69" y="342.01" width="0.9" height="20.17" fill="#ef5350" fill-opacity="0.75"/>
<rect x="323.49" y="343.77" width="1.3" height="11.11" fill="#ef5350"/>
<rect x="325.9" y="342.64" width="0.9" height="20.32" fill="#ef5350" fill-opacity="0.75"/>
<rect x="325.7" y="349.02" width="1.3" height="8.59" fill="#ef5350"/>
<rect x="328.11" y="343.07" width="0.9" height="8.48" fill="#26a69a" fill-opacity="0.75"/>
<rect x="327.91" y="346.45" width="1.3" height="5.2" fill="#26a69a"/>
<rect x="330.32" y="343.12" width="0.9" height="9.27" fill="#26a69a" fill-opacity="0.75"/>
<rect x="330.12" y="347.66" width="1.3" height="3.03" fill="#26a69a"/>
<rect x="332.53" y="343.31" width="0.9" height="9.23" fill="#26a69a" fill-opacity="0.75"/>
<rect x="332.33" y="347.27" width="1.3" height="4.14" fill="#26a69a"/>
<rect x="334.74" y="343.95" width="0.9" height="8.45" fill="#26a69a" fill-opacity="0.75"/>
<rect x="334.54" y="348.03" width="1.3" height="3.34" fill="#26a69a"/>
<rect x="336.95" y="325" width="0.9" height="23" fill="#26a69a" fill-opacity="0.75"/>
<rect x="336.75" y="329.07" width="1.3" height="15.16" fill="#26a69a"/>
<rect x="339.16" y="322.1" width="0.9" height="8.84" fill="#26a69a" fill-opacity="0.75"/>
<rect x="338.96" y="324.02" width="1.3" height="4.56" fill="#26a69a"/>
<rect x="341.37" y="287.5" width="0.9" height="34.5" fill="#26a69a" fill-opacity="0.75"/>
<rect x="341.17" y="290.68" width="1.3" height="24.67" fill="#26a69a"/>
<rect x="343.58" y="307.22" width="0.9" height="13.24" fill="#ef5350" fill-opacity="0.75"/>
<rect x="343.38" y="314.11" width="1.3" height="5.2" fill="#ef5350"/>
<rect x="345.79" y="306.13" width="0.9" height="14.22" fill="#ef5350" fill-opacity="0.75"/>
<rect x="345.59" y="309.57" width="1.3" height="6.98" fill="#ef5350"/>
<rect x="348" y="300.2" width="0.9" height="8.64" fill="#ef5350" fill-opacity="0.75"/>
<rect x="347.8" y="301.12" width="1.3" height="3.99" fill="#ef5350"/>
<rect x="350.21" y="299.8" width="0.9" height="10.06" fill="#26a69a" fill-opacity="0.75"/>
<rect x="350.01" y="300.79" width="1.3" height="3.66" fill="#26a69a"/>
<rect x="352.42" y="299.89" width="0.9" height="9.72" fill="#ef5350" fill-opacity="0.75"/>
<rect x="352.22" y="301.38" width="1.3" height="5.54" fill="#ef5350"/>
<rect x="354.63" y="299.72" width="0.9" height="9.84" fill="#26a69a" fill-opacity="0.75"/>
<rect x="354.43" y="301.85" width="1.3" height="3.21" fill="#26a69a"/>
<rect x="356.84" y="284.12" width="0.9" height="9.77" fill="#26a69a" fill-opacity="0.75"/>
<rect x="356.64" y="286.69" width="1.3" height="4.12" fill="#26a69a"/>
<rect x="359.05" y="281.79" width="0.9" height="10.11" fill="#26a69a" fill-opacity="0.75"/>
<rect x="358.85" y="282.92" width="1.3" height="6.3" fill="#26a69a"/>
<rect x="361.26" y="278.57" width="0.9" height="9.71" fill="#26a69a" fill-opacity="0.75"/>
<rect x="361.06" y="281.28" width="1.3" height="4.83" fill="#26a69a"/>
<rect x="363.47" y="276.23" width="0.9" height="9.24" fill="#26a69a" fill-opacity="0.75"/>
<rect x="363.27" y="280.25" width="1.3" height="4.65" fill="#26a69a"/>
<rect x="365.68" y="277.74" width="0.9" height="17.2" fill="#ef5350" fill-opacity="0.75"/>
<rect x="365.48" y="280.75" width="1.3" height="8.64" fill="#ef5350"/>
<rect x="367.89" y="276.13" width="0.9" height="20.05" fill="#ef5350" fill-opacity="0.75"/>
<rect x="367.69" y="285.32" width="1.3" height="6.58" fill="#ef5350"/>
<rect x="370.1" y="274.51" width="0.9" height="15.67" fill="#26a69a" fill-opacity="0.75"/>
<rect x="369.9" y="282.24" width="1.3" height="5.37" fill="#26a69a"/>
<rect x="372.31" y="275.72" width="0.9" height="13.45" fill="#26a69a" fill-opacity="0.75"/>
<rect x="372.11" y="277.31" width="1.3" height="6.35" fill="#26a69a"/>
<rect x="374.52" y="262.17" width="0.9" height="7.51" fill="#26a69a" fill-opacity="0.75"/>
<rect x="374.32" y="264.37" width="1.3" height="2.86" fill="#26a69a"/>
<rect x="376.73" y="260.15" width="0.9" height="7.04" fill="#26a69a" fill-opacity="0.75"/>
<rect x="376.53" y="261.65" width="1.3" height="4.88" fill="#26a69a"/>
<rect x="378.94" y="258.14" width="0.9" height="7.05" fill="#26a69a" fill-opacity="0.75"/>
<rect x="378.74" y="259.92" width="1.3" height="3.24" fill="#26a69a"/>
<rect x="381.15" y="245" width="0.9" height="16.22" fill="#26a69a" fill-opacity="0.75"/>
<rect x="380.95" y="249.76" width="1.3" height="7.52" fill="#26a69a"/>
<rect x="383.36" y="245.41" width="0.9" height="15.56" fill="#26a69a" fill-opacity="0.75"/>
<rect x="383.16" y="248.94" width="1.3" height="5.13" fill="#26a69a"/>
<rect x="385.57" y="250" width="0.9" height="46.5" fill="#ef5350" fill-opacity="0.75"/>
<rect x="385.37" y="254.43" width="1.3" height="36.12" fill="#ef5350"/>
<rect x="387.78" y="250" width="0.9" height="46.5" fill="#ef5350" fill-opacity="0.75"/>
<rect x="387.58" y="254.05" width="1.3" height="38.61" fill="#ef5350"/>
<rect x="389.99" y="263.48" width="0.9" height="22.55" fill="#26a69a" fill-opacity="0.75"/>
<rect x="389.79" y="269.15" width="1.3" height="11.46" fill="#26a69a"/>
<rect x="392.2" y="265.26" width="0.9" height="16.21" fill="#26a69a" fill-opacity="0.75"/>
<rect x="392" y="270.34" width="1.3" height="10.04" fill="#26a69a"/>
<rect x="394.41" y="264.26" width="0.9" height="16.43" fill="#ef5350" fill-opacity="0.75"/>
<rect x="394.21" y="271.88" width="1.3" height="6.72" fill="#ef5350"/>
<rect x="396.62" y="257.58" width="0.9" height="13.42" fill="#26a69a" fill-opacity="0.75"/>
<rect x="396.42" y="261.19" width="1.3" height="8.51" fill="#26a69a"/>
<rect x="398.83" y="258.82" width="0.9" height="12.22" fill="#26a69a" fill-opacity="0.75"/>
<rect x="398.63" y="262.6" width="1.3" height="5.13" fill="#26a69a"/>
<rect x="401.04" y="258.41" width="0.9" height="12.59" fill="#26a69a" fill-opacity="0.75"/>
<rect x="400.84" y="262.21" width="1.3" height="8.12" fill="#26a69a"/>
<rect x="403.25" y="258.55" width="0.9" height="12.34" fill="#26a69a" fill-opacity="0.75"/>
<rect x="403.05" y="262.07" width="1.3" height="7.57" fill="#26a69a"/>
<rect x="405.46" y="257.91" width="0.9" height="14.53" fill="#26a69a" fill-opacity="0.75"/>
<rect x="405.26" y="261.49" width="1.3" height="5.1" fill="#26a69a"/>
<rect x="407.67" y="260.1" width="0.9" height="7.1" fill="#ef5350" fill-opacity="0.75"/>
<rect x="407.47" y="262.47" width="1.3" height="3.74" fill="#ef5350"/>
<rect x="409.88" y="260.6" width="0.9" height="6.75" fill="#ef5350" fill-opacity="0.75"/>
<rect x="409.68" y="260.81" width="1.3" height="3.57" fill="#ef5350"/>
<rect x="412.09" y="260.77" width="0.9" height="6.52" fill="#ef5350" fill-opacity="0.75"/>
<rect x="411.89" y="262.29" width="1.3" height="3.61" fill="#ef5350"/>
<rect x="414.3" y="254.19" width="0.9" height="13.69" fill="#26a69a" fill-opacity="0.75"/>
<rect x="414.1" y="255.56" width="1.3" height="7.82" fill="#26a69a"/>
<rect x="416.51" y="253.48" width="0.9" height="13.21" fill="#ef5350" fill-opacity="0.75"/>
<rect x="416.31" y="259.37" width="1.3" height="5.42" fill="#ef5350"/>
<rect x="418.72" y="253.89" width="0.9" height="13.42" fill="#ef5350" fill-opacity="0.75"/>
<rect x="418.52" y="258.15" width="1.3" height="6.66" fill="#ef5350"/>
<rect x="420.93" y="254.11" width="0.9" height="12.73" fill="#26a69a" fill-opacity="0.75"/>
<rect x="420.73" y="255.55" width="1.3" height="4.85" fill="#26a69a"/>
<rect x="423.14" y="254.34" width="0.9" height="13.11" fill="#26a69a" fill-opacity="0.75"/>
<rect x="422.94" y="254.56" width="1.3" height="7.05" fill="#26a69a"/>
<rect x="425.35" y="266.81" width="0.9" height="8.43" fill="#26a69a" fill-opacity="0.75"/>
<rect x="425.15" y="269.33" width="1.3" height="4.82" fill="#26a69a"/>
<rect x="427.56" y="267.09" width="0.9" height="8.38" fill="#ef5350" fill-opacity="0.75"/>
<rect x="427.36" y="267.86" width="1.3" height="4.18" fill="#ef5350"/>
<rect x="429.77" y="266.73" width="0.9" height="8.16" fill="#26a69a" fill-opacity="0.75"/>
<rect x="429.57" y="267.49" width="1.3" height="5.52" fill="#26a69a"/>
<rect x="431.98" y="267.43" width="0.9" height="7.46" fill="#26a69a" fill-opacity="0.75"/>
<rect x="431.78" y="268.38" width="1.3" height="4.13" fill="#26a69a"/>
<rect x="434.19" y="255.86" width="0.9" height="10.33" fill="#26a69a" fill-opacity="0.75"/>
<rect x="433.99" y="256.25" width="1.3" height="5.69" fill="#26a69a"/>
<rect x="436.4" y="255.25" width="0.9" height="9.87" fill="#26a69a" fill-opacity="0.75"/>
<rect x="436.2" y="260.23" width="1.3" height="4.08" fill="#26a69a"/>
<rect x="438.61" y="255.23" width="0.9" height="9.99" fill="#26a69a" fill-opacity="0.75"/>
<rect x="438.41" y="256.5" width="1.3" height="6.13" fill="#26a69a"/>
<rect x="440.82" y="255.79" width="0.9" height="10.01" fill="#26a69a" fill-opacity="0.75"/>
<rect x="440.62" y="255.72" width="1.3" height="3.69" fill="#26a69a"/>
<rect x="443.03" y="255.21" width="0.9" height="10.64" fill="#26a69a" fill-opacity="0.75"/>
<rect x="442.83" y="256.39" width="1.3" height="4.69" fill="#26a69a"/>
<rect x="445.24" y="262.33" width="0.9" height="7.37" fill="#ef5350" fill-opacity="0.75"/>
<rect x="445.04" y="262.8" width="1.3" height="4.42" fill="#ef5350"/>
<rect x="447.45" y="262.72" width="0.9" height="6.47" fill="#ef5350" fill-opacity="0.75"/>
<rect x="447.25" y="266.24" width="1.3" height="2.69" fill="#ef5350"/>
<rect x="449.66" y="262.68" width="0.9" height="6.45" fill="#ef5350" fill-opacity="0.75"/>
<rect x="449.46" y="264.03" width="1.3" height="3.1" fill="#ef5350"/>
<rect x="451.87" y="239.5" width="0.9" height="25.5" fill="#26a69a" fill-opacity="0.75"/>
<rect x="451.67" y="243.24" width="1.3" height="16.66" fill="#26a69a"/>
<rect x="454.08" y="242.27" width="0.9" height="15.95" fill="#ef5350" fill-opacity="0.75"/>
<rect x="453.88" y="244.64" width="1.3" height="7.71" fill="#ef5350"/>
<rect x="456.29" y="250.09" width="0.9" height="14.73" fill="#ef5350" fill-opacity="0.75"/>
<rect x="456.09" y="252.57" width="1.3" height="8.26" fill="#ef5350"/>
<rect x="458.5" y="243" width="0.9" height="22" fill="#ef5350" fill-opacity="0.75"/>
<rect x="458.3" y="245.69" width="1.3" height="16.85" fill="#ef5350"/>
<rect x="460.71" y="258.45" width="0.9" height="5.29" fill="#ef5350" fill-opacity="0.75"/>
<rect x="460.51" y="260.82" width="1.3" height="2.38" fill="#ef5350"/>
<rect x="462.92" y="260.11" width="0.9" height="4.6" fill="#ef5350" fill-opacity="0.75"/>
<rect x="462.72" y="261.71" width="1.3" height="2.83" fill="#ef5350"/>
<rect x="465.13" y="261.54" width="0.9" height="4.74" fill="#ef5350" fill-opacity="0.75"/>
<rect x="464.93" y="261.54" width="1.3" height="2.98" fill="#ef5350"/>
<rect x="467.34" y="262.79" width="0.9" height="4.96" fill="#ef5350" fill-opacity="0.75"/>
<rect x="467.14" y="263.88" width="1.3" height="3.04" fill="#ef5350"/>
<rect x="469.55" y="265.4" width="0.9" height="30.6" fill="#ef5350" fill-opacity="0.75"/>
<rect x="469.35" y="269.34" width="1.3" height="24.04" fill="#ef5350"/>
<rect x="471.76" y="287.06" width="0.9" height="16.16" fill="#26a69a" fill-opacity="0.75"/>
<rect x="471.56" y="289.13" width="1.3" height="8.17" fill="#26a69a"/>
<rect x="473.97" y="286.64" width="0.9" height="14.69" fill="#26a69a" fill-opacity="0.75"/>
<rect x="473.77" y="291.97" width="1.3" height="6.99" fill="#26a69a"/>
<rect x="476.18" y="290.67" width="0.9" height="8.86" fill="#26a69a" fill-opacity="0.75"/>
<rect x="475.98" y="291.73" width="1.3" height="3.5" fill="#26a69a"/>
<rect x="478.39" y="291.09" width="0.9" height="8.32" fill="#ef5350" fill-opacity="0.75"/>
<rect x="478.19" y="294.93" width="1.3" height="3.66" fill="#ef5350"/>
<rect x="480.6" y="290.54" width="0.9" height="9.29" fill="#26a69a" fill-opacity="0.75"/>
<rect x="480.4" y="291.4" width="1.3" height="3.58" fill="#26a69a"/>
<rect x="482.81" y="290.11" width="0.9" height="9.6" fill="#ef5350" fill-opacity="0.75"/>
<rect x="482.61" y="293.41" width="1.3" height="3.78" fill="#ef5350"/>
<rect x="485.02" y="290.9" width="0.9" height="8.61" fill="#26a69a" fill-opacity="0.75"/>
<rect x="484.82" y="292.97" width="1.3" height="4.24" fill="#26a69a"/>
<rect x="487.23" y="277.6" width="0.9" height="21.4" fill="#26a69a" fill-opacity="0.75"/>
<rect x="487.03" y="280.54" width="1.3" height="16.59" fill="#26a69a"/>
<rect x="489.44" y="278.3" width="0.9" height="7.66" fill="#ef5350" fill-opacity="0.75"/>
<rect x="489.24" y="280.99" width="1.3" height="3.04" fill="#ef5350"/>
<rect x="491.65" y="271.96" width="0.9" height="5.01" fill="#26a69a" fill-opacity="0.75"/>
<rect x="491.45" y="272.83" width="1.3" height="2.23" fill="#26a69a"/>
<rect x="493.86" y="262.33" width="0.9" height="10.14" fill="#26a69a" fill-opacity="0.75"/>
<rect x="493.66" y="266.94" width="1.3" height="4.77" fill="#26a69a"/>
<rect x="496.07" y="255.63" width="0.9" height="12.69" fill="#ef5350" fill-opacity="0.75"/>
<rect x="495.87" y="255.85" width="1.3" height="4.9" fill="#ef5350"/>
<rect x="498.28" y="255.72" width="0.9" height="13.37" fill="#26a69a" fill-opacity="0.75"/>
<rect x="498.08" y="255.6" width="1.3" height="7.62" fill="#26a69a"/>
<rect x="500.49" y="255.78" width="0.9" height="12.64" fill="#26a69a" fill-opacity="0.75"/>
<rect x="500.29" y="259.39" width="1.3" height="8.91" fill="#26a69a"/>
<rect x="502.7" y="259.66" width="0.9" height="13.69" fill="#ef5350" fill-opacity="0.75"/>
<rect x="502.5" y="264.2" width="1.3" height="6.46" fill="#ef5350"/>
<rect x="504.91" y="263.91" width="0.9" height="11.31" fill="#ef5350" fill-opacity="0.75"/>
<rect x="504.71" y="267.04" width="1.3" height="6.99" fill="#ef5350"/>
<rect x="507.12" y="265.93" width="0.9" height="12.42" fill="#ef5350" fill-opacity="0.75"/>
<rect x="506.92" y="271.97" width="1.3" height="4.41" fill="#ef5350"/>
<rect x="509.33" y="268.39" width="0.9" height="12.18" fill="#ef5350" fill-opacity="0.75"/>
<rect x="509.13" y="270.73" width="1.3" height="6.98" fill="#ef5350"/>
<rect x="511.54" y="271.25" width="0.9" height="15.27" fill="#26a69a" fill-opacity="0.75"/>
<rect x="511.34" y="276.06" width="1.3" height="7.85" fill="#26a69a"/>
<rect x="513.75" y="271.14" width="0.9" height="14.86" fill="#26a69a" fill-opacity="0.75"/>
<rect x="513.55" y="274.62" width="1.3" height="7.6" fill="#26a69a"/>
<rect x="515.96" y="268.35" width="0.9" height="17.33" fill="#26a69a" fill-opacity="0.75"/>
<rect x="515.76" y="272.4" width="1.3" height="7.3" fill="#26a69a"/>
<rect x="518.17" y="269.15" width="0.9" height="15.1" fill="#26a69a" fill-opacity="0.75"/>
<rect x="517.97" y="270.96" width="1.3" height="10.57" fill="#26a69a"/>
<rect x="520.38" y="267.53" width="0.9" height="17.62" fill="#26a69a" fill-opacity="0.75"/>
<rect x="520.18" y="271.66" width="1.3" height="11" fill="#26a69a"/>
<rect x="522.59" y="279.7" width="0.9" height="11.15" fill="#ef5350" fill-opacity="0.75"/>
<rect x="522.39" y="283.17" width="1.3" height="5.22" fill="#ef5350"/>
<rect x="524.8" y="281.66" width="0.9" height="10.66" fill="#ef5350" fill-opacity="0.75"/>
<rect x="524.6" y="285.46" width="1.3" height="5.8" fill="#ef5350"/>
<rect x="527.01" y="283.2" width="0.9" height="11.24" fill="#ef5350" fill-opacity="0.75"/>
<rect x="526.81" y="285.99" width="1.3" height="4.66" fill="#ef5350"/>
<rect x="529.22" y="285.65" width="0.9" height="10.38" fill="#ef5350" fill-opacity="0.75"/>
<rect x="529.02" y="288.09" width="1.3" height="6.26" fill="#ef5350"/>
<rect x="531.43" y="287.21" width="0.9" height="10.62" fill="#ef5350" fill-opacity="0.75"/>
<rect x="531.23" y="288.42" width="1.3" height="6.86" fill="#ef5350"/>
<rect x="533.64" y="297.52" width="0.9" height="6.97" fill="#ef5350" fill-opacity="0.75"/>
<rect x="533.44" y="300.16" width="1.3" height="2.92" fill="#ef5350"/>
<rect x="535.85" y="298.84" width="0.9" height="6.78" fill="#ef5350" fill-opacity="0.75"/>
<rect x="535.65" y="299.88" width="1.3" height="3.58" fill="#ef5350"/>
<rect x="538.06" y="300.6" width="0.9" height="7.36" fill="#ef5350" fill-opacity="0.75"/>
<rect x="537.86" y="303.45" width="1.3" height="3.98" fill="#ef5350"/>
<rect x="540.27" y="303.82" width="0.9" height="11.6" fill="#26a69a" fill-opacity="0.75"/>
<rect x="540.07" y="310.11" width="1.3" height="4.51" fill="#26a69a"/>
<rect x="542.48" y="303.68" width="0.9" height="12.23" fill="#ef5350" fill-opacity="0.75"/>
<rect x="542.28" y="309.09" width="1.3" height="5.18" fill="#ef5350"/>
<rect x="544.69" y="304.69" width="0.9" height="9.83" fill="#26a69a" fill-opacity="0.75"/>
<rect x="544.49" y="305.74" width="1.3" height="7.19" fill="#26a69a"/>
<rect x="546.9" y="290.6" width="0.9" height="17.9" fill="#26a69a" fill-opacity="0.75"/>
<rect x="546.7" y="294.88" width="1.3" height="10.59" fill="#26a69a"/>
<rect x="549.11" y="285.05" width="0.9" height="12.56" fill="#26a69a" fill-opacity="0.75"/>
<rect x="548.91" y="288.35" width="1.3" height="5.67" fill="#26a69a"/>
<rect x="551.32" y="285.28" width="0.9" height="13.42" fill="#ef5350" fill-opacity="0.75"/>
<rect x="551.12" y="288.37" width="1.3" height="5.26" fill="#ef5350"/>
<rect x="553.53" y="285.2" width="0.9" height="11.91" fill="#ef5350" fill-opacity="0.75"/>
<rect x="553.33" y="288.51" width="1.3" height="4.96" fill="#ef5350"/>
<rect x="555.74" y="280.04" width="0.9" height="7.62" fill="#26a69a" fill-opacity="0.75"/>
<rect x="555.54" y="282.11" width="1.3" height="2.82" fill="#26a69a"/>
<rect x="557.95" y="277.1" width="0.9" height="7.57" fill="#26a69a" fill-opacity="0.75"/>
<rect x="557.75" y="279.04" width="1.3" height="3.21" fill="#26a69a"/>
<rect x="560.16" y="275.21" width="0.9" height="7.97" fill="#26a69a" fill-opacity="0.75"/>
<rect x="559.96" y="277.88" width="1.3" height="3.79" fill="#26a69a"/>
<rect x="562.37" y="275.46" width="0.9" height="4.52" fill="#ef5350" fill-opacity="0.75"/>
<rect x="562.17" y="275.65" width="1.3" height="1.55" fill="#ef5350"/>
<rect x="564.58" y="275.15" width="0.9" height="4.4" fill="#26a69a" fill-opacity="0.75"/>
<rect x="564.38" y="275.89" width="1.3" height="2.85" fill="#26a69a"/>
<rect x="566.79" y="275.57" width="0.9" height="4.06" fill="#26a69a" fill-opacity="0.75"/>
<rect x="566.59" y="277.01" width="1.3" height="1.89" fill="#26a69a"/>
<rect x="569" y="277.92" width="0.9" height="9.37" fill="#ef5350" fill-opacity="0.75"/>
<rect x="568.8" y="281" width="1.3" height="5.11" fill="#ef5350"/>
<rect x="571.21" y="278.34" width="0.9" height="7.86" fill="#ef5350" fill-opacity="0.75"/>
<rect x="571.01" y="279.69" width="1.3" height="2.98" fill="#ef5350"/>
<rect x="573.42" y="270.71" width="0.9" height="10.35" fill="#26a69a" fill-opacity="0.75"/>
<rect x="573.22" y="272.28" width="1.3" height="7.33" fill="#26a69a"/>
<rect x="575.63" y="270.64" width="0.9" height="11.11" fill="#ef5350" fill-opacity="0.75"/>
<rect x="575.43" y="271.76" width="1.3" height="7.23" fill="#ef5350"/>
<rect x="577.84" y="271.11" width="0.9" height="10.16" fill="#26a69a" fill-opacity="0.75"/>
<rect x="577.64" y="273.29" width="1.3" height="6.65" fill="#26a69a"/>
<rect x="580.05" y="269.5" width="0.9" height="11.94" fill="#26a69a" fill-opacity="0.75"/>
<rect x="579.85" y="270.57" width="1.3" height="6.95" fill="#26a69a"/>
<rect x="582.26" y="270.17" width="0.9" height="11.44" fill="#ef5350" fill-opacity="0.75"/>
<rect x="582.06" y="270.51" width="1.3" height="4.15" fill="#ef5350"/>
<rect x="584.47" y="269.51" width="0.9" height="10.96" fill="#26a69a" fill-opacity="0.75"/>
<rect x="584.27" y="273.32" width="1.3" height="7.35" fill="#26a69a"/>
<rect x="586.68" y="269.13" width="0.9" height="12.72" fill="#26a69a" fill-opacity="0.75"/>
<rect x="586.48" y="273.53" width="1.3" height="5.84" fill="#26a69a"/>
<rect x="588.89" y="269.37" width="0.9" height="11.98" fill="#ef5350" fill-opacity="0.75"/>
<rect x="588.69" y="273.05" width="1.3" height="6.32" fill="#ef5350"/>
<rect x="591.1" y="263.84" width="0.9" height="13.06" fill="#26a69a" fill-opacity="0.75"/>
<rect x="590.9" y="270.04" width="1.3" height="5.36" fill="#26a69a"/>
<rect x="593.31" y="258.94" width="0.9" height="14.3" fill="#26a69a" fill-opacity="0.75"/>
<rect x="593.11" y="264.54" width="1.3" height="6.57" fill="#26a69a"/>
<rect x="595.52" y="254.91" width="0.9" height="15.1" fill="#26a69a" fill-opacity="0.75"/>
<rect x="595.32" y="257.17" width="1.3" height="5.96" fill="#26a69a"/>
<rect x="597.73" y="252.47" width="0.9" height="6.8" fill="#26a69a" fill-opacity="0.75"/>
<rect x="597.53" y="253.73" width="1.3" height="3.28" fill="#26a69a"/>
<rect x="599.94" y="250.61" width="0.9" height="6.77" fill="#26a69a" fill-opacity="0.75"/>
<rect x="599.74" y="253.32" width="1.3" height="3.05" fill="#26a69a"/>
<rect x="602.15" y="248.31" width="0.9" height="6.62" fill="#26a69a" fill-opacity="0.75"/>
<rect x="601.95" y="250.33" width="1.3" height="2.73" fill="#26a69a"/>
<rect x="604.36" y="246.51" width="0.9" height="6.61" fill="#26a69a" fill-opacity="0.75"/>
<rect x="604.16" y="246.6" width="1.3" height="4.74" fill="#26a69a"/>
<rect x="606.57" y="229.8" width="0.9" height="22.8" fill="#26a69a" fill-opacity="0.75"/>
<rect x="606.37" y="232.76" width="1.3" height="17.69" fill="#26a69a"/>
<rect x="608.78" y="232.32" width="0.9" height="12.05" fill="#ef5350" fill-opacity="0.75"/>
<rect x="608.58" y="237.63" width="1.3" height="6.65" fill="#ef5350"/>
<rect x="610.99" y="230.67" width="0.9" height="12.77" fill="#ef5350" fill-opacity="0.75"/>
<rect x="610.79" y="232.92" width="1.3" height="6.52" fill="#ef5350"/>
<rect x="613.2" y="199.5" width="0.9" height="22.5" fill="#26a69a" fill-opacity="0.75"/>
<rect x="613" y="204.92" width="1.3" height="15" fill="#26a69a"/>
<rect x="615.41" y="214.22" width="0.9" height="14.52" fill="#ef5350" fill-opacity="0.75"/>
<rect x="615.21" y="217.42" width="1.3" height="6.21" fill="#ef5350"/>
<rect x="617.62" y="225" width="0.9" height="30.6" fill="#26a69a" fill-opacity="0.75"/>
<rect x="617.42" y="228.18" width="1.3" height="24.22" fill="#26a69a"/>
<rect x="619.83" y="221.01" width="0.9" height="12.03" fill="#26a69a" fill-opacity="0.75"/>
<rect x="619.63" y="222.77" width="1.3" height="6.64" fill="#26a69a"/>
<rect x="622.04" y="221.13" width="0.9" height="11.78" fill="#26a69a" fill-opacity="0.75"/>
<rect x="621.84" y="223.8" width="1.3" height="4.76" fill="#26a69a"/>
<rect x="624.25" y="227.87" width="0.9" height="10.32" fill="#26a69a" fill-opacity="0.75"/>
<rect x="624.05" y="228.53" width="1.3" height="3.92" fill="#26a69a"/>
<rect x="626.46" y="227.28" width="0.9" height="10.9" fill="#26a69a" fill-opacity="0.75"/>
<rect x="626.26" y="228.28" width="1.3" height="6.05" fill="#26a69a"/>
<rect x="628.67" y="216.29" width="0.9" height="13.45" fill="#26a69a" fill-opacity="0.75"/>
<rect x="628.47" y="219.1" width="1.3" height="6.34" fill="#26a69a"/>
<rect x="630.88" y="200" width="0.9" height="26.7" fill="#26a69a" fill-opacity="0.75"/>
<rect x="630.68" y="206.46" width="1.3" height="17.1" fill="#26a69a"/>
<rect x="633.09" y="179" width="0.9" height="31" fill="#26a69a" fill-opacity="0.75"/>
<rect x="632.89" y="184.47" width="1.3" height="21.73" fill="#26a69a"/>
<rect x="635.3" y="163" width="0.9" height="22" fill="#26a69a" fill-opacity="0.75"/>
<rect x="635.1" y="166.32" width="1.3" height="14.64" fill="#26a69a"/>
<rect x="637.51" y="163" width="0.9" height="22" fill="#26a69a" fill-opacity="0.75"/>
<rect x="637.31" y="168.49" width="1.3" height="13.79" fill="#26a69a"/>
<rect x="639.72" y="140" width="0.9" height="31" fill="#26a69a" fill-opacity="0.75"/>
<rect x="639.52" y="143.52" width="1.3" height="22.29" fill="#26a69a"/>
<rect x="641.93" y="104" width="0.9" height="51" fill="#26a69a" fill-opacity="0.75"/>
<rect x="641.73" y="109.85" width="1.3" height="41.04" fill="#26a69a"/>
<rect x="644.14" y="98" width="0.9" height="31" fill="#ef5350" fill-opacity="0.75"/>
<rect x="643.94" y="105.23" width="1.3" height="19.71" fill="#ef5350"/>
<rect x="646.35" y="123.85" width="0.9" height="26.44" fill="#ef5350" fill-opacity="0.75"/>
<rect x="646.15" y="127.26" width="1.3" height="17.51" fill="#ef5350"/>
<rect x="648.56" y="140.46" width="0.9" height="23.2" fill="#ef5350" fill-opacity="0.75"/>
<rect x="648.36" y="147.45" width="1.3" height="11.03" fill="#ef5350"/>
<rect x="650.77" y="143.28" width="0.9" height="26.4" fill="#26a69a" fill-opacity="0.75"/>
<rect x="650.57" y="146.49" width="1.3" height="14.6" fill="#26a69a"/>
<rect x="652.98" y="141.82" width="0.9" height="27.66" fill="#26a69a" fill-opacity="0.75"/>
<rect x="652.78" y="149.49" width="1.3" height="11.55" fill="#26a69a"/>
<rect x="655.19" y="134.55" width="0.9" height="20.15" fill="#ef5350" fill-opacity="0.75"/>
<rect x="654.99" y="140.83" width="1.3" height="10.28" fill="#ef5350"/>
<rect x="657.4" y="132.54" width="0.9" height="22.11" fill="#26a69a" fill-opacity="0.75"/>
<rect x="657.2" y="139.17" width="1.3" height="13.41" fill="#26a69a"/>
<rect x="659.61" y="137.17" width="0.9" height="23.56" fill="#ef5350" fill-opacity="0.75"/>
<rect x="659.41" y="148.93" width="1.3" height="11.12" fill="#ef5350"/>
<rect x="661.82" y="138.99" width="0.9" height="22.07" fill="#ef5350" fill-opacity="0.75"/>
<rect x="661.62" y="149.15" width="1.3" height="9.29" fill="#ef5350"/>
<rect x="664.03" y="167" width="0.9" height="22.8" fill="#ef5350" fill-opacity="0.75"/>
<rect x="663.83" y="169.68" width="1.3" height="17.18" fill="#ef5350"/>
<rect x="666.24" y="167" width="0.9" height="22.8" fill="#ef5350" fill-opacity="0.75"/>
<rect x="666.04" y="172.1" width="1.3" height="13.6" fill="#ef5350"/>
<rect x="668.45" y="156" width="0.9" height="26.4" fill="#26a69a" fill-opacity="0.75"/>
<rect x="668.25" y="158.93" width="1.3" height="20.66" fill="#26a69a"/>
<rect x="670.66" y="120.8" width="0.9" height="36.2" fill="#26a69a" fill-opacity="0.75"/>
<rect x="670.46" y="126.16" width="1.3" height="25.7" fill="#26a69a"/>
<rect x="672.87" y="120.73" width="0.9" height="13.69" fill="#26a69a" fill-opacity="0.75"/>
<rect x="672.67" y="126.02" width="1.3" height="5.45" fill="#26a69a"/>
<rect x="675.08" y="117.97" width="0.9" height="12.93" fill="#26a69a" fill-opacity="0.75"/>
<rect x="674.88" y="121.52" width="1.3" height="6.83" fill="#26a69a"/>
<rect x="677.29" y="112.81" width="0.9" height="13.04" fill="#26a69a" fill-opacity="0.75"/>
<rect x="677.09" y="118.26" width="1.3" height="4.89" fill="#26a69a"/>
<rect x="679.5" y="98.96" width="0.9" height="12.54" fill="#26a69a" fill-opacity="0.75"/>
<rect x="679.3" y="101.96" width="1.3" height="5.72" fill="#26a69a"/>
<rect x="681.71" y="102.61" width="0.9" height="20.22" fill="#ef5350" fill-opacity="0.75"/>
<rect x="681.51" y="106.41" width="1.3" height="11.45" fill="#ef5350"/>
<rect x="683.92" y="102.21" width="0.9" height="21.73" fill="#ef5350" fill-opacity="0.75"/>
<rect x="683.72" y="106.84" width="1.3" height="11.17" fill="#ef5350"/>
<rect x="686.13" y="108.07" width="0.9" height="11.53" fill="#26a69a" fill-opacity="0.75"/>
<rect x="685.93" y="110.61" width="1.3" height="7" fill="#26a69a"/>
<rect x="688.34" y="85" width="0.9" height="35.8" fill="#26a69a" fill-opacity="0.75"/>
<rect x="688.14" y="90.74" width="1.3" height="26.73" fill="#26a69a"/>
<rect x="690.55" y="82.1" width="0.9" height="30.23" fill="#ef5350" fill-opacity="0.75"/>
<rect x="690.35" y="91.61" width="1.3" height="10.61" fill="#ef5350"/>
<rect x="692.76" y="84.56" width="0.9" height="29.88" fill="#ef5350" fill-opacity="0.75"/>
<rect x="692.56" y="86.61" width="1.3" height="15.71" fill="#ef5350"/>
<rect x="694.97" y="85.58" width="0.9" height="14.74" fill="#26a69a" fill-opacity="0.75"/>
<rect x="694.77" y="86.14" width="1.3" height="8.16" fill="#26a69a"/>
<rect x="697.18" y="85.09" width="0.9" height="16.1" fill="#26a69a" fill-opacity="0.75"/>
<rect x="696.98" y="86.33" width="1.3" height="10.53" fill="#26a69a"/>
<rect x="699.39" y="74.37" width="0.9" height="17.89" fill="#26a69a" fill-opacity="0.75"/>
<rect x="699.19" y="79.56" width="1.3" height="11.95" fill="#26a69a"/>
<rect x="701.6" y="74.71" width="0.9" height="18.93" fill="#26a69a" fill-opacity="0.75"/>
<rect x="701.4" y="78.79" width="1.3" height="13.5" fill="#26a69a"/>
<rect x="703.81" y="74.18" width="0.9" height="18.26" fill="#ef5350" fill-opacity="0.75"/>
<rect x="703.61" y="78.18" width="1.3" height="7.35" fill="#ef5350"/>
<rect x="706.02" y="88.4" width="0.9" height="18.34" fill="#ef5350" fill-opacity="0.75"/>
<rect x="705.82" y="97.25" width="1.3" height="8.03" fill="#ef5350"/>
<rect x="708.23" y="88.36" width="0.9" height="19.37" fill="#ef5350" fill-opacity="0.75"/>
<rect x="708.03" y="91.08" width="1.3" height="12.1" fill="#ef5350"/>
<rect x="710.44" y="88.95" width="0.9" height="27.23" fill="#26a69a" fill-opacity="0.75"/>
<rect x="710.24" y="91.45" width="1.3" height="11.87" fill="#26a69a"/>
<rect x="712.65" y="88.66" width="0.9" height="28.76" fill="#26a69a" fill-opacity="0.75"/>
<rect x="712.45" y="95.47" width="1.3" height="17.43" fill="#26a69a"/>
<rect x="714.86" y="61" width="0.9" height="50" fill="#26a69a" fill-opacity="0.75"/>
<rect x="714.66" y="72.61" width="1.3" height="33.38" fill="#26a69a"/>
<rect x="717.07" y="62.7" width="0.9" height="16.06" fill="#26a69a" fill-opacity="0.75"/>
<rect x="716.87" y="66.7" width="1.3" height="8.27" fill="#26a69a"/>
<rect x="719.28" y="61.78" width="0.9" height="15.34" fill="#26a69a" fill-opacity="0.75"/>
<rect x="719.08" y="66.28" width="1.3" height="8.4" fill="#26a69a"/>
<rect x="721.49" y="30" width="0.9" height="34.7" fill="#26a69a" fill-opacity="0.75"/>
<rect x="721.29" y="37.98" width="1.3" height="23.51" fill="#26a69a"/>
<rect x="723.7" y="22.38" width="0.9" height="16.11" fill="#26a69a" fill-opacity="0.75"/>
<rect x="723.5" y="28.09" width="1.3" height="8.37" fill="#26a69a"/>
<rect x="725.91" y="30" width="0.9" height="22" fill="#ef5350" fill-opacity="0.75"/>
<rect x="725.71" y="32.75" width="1.3" height="14.87" fill="#ef5350"/>
<rect x="770.11" y="30" width="0.9" height="31" fill="#ef5350" fill-opacity="0.75"/>
<rect x="769.91" y="35.52" width="1.3" height="21.66" fill="#ef5350"/>
<rect x="772.32" y="30" width="0.9" height="28.5" fill="#26a69a" fill-opacity="0.75"/>
<rect x="772.12" y="35.98" width="1.3" height="18.72" fill="#26a69a"/>
<rect x="774.53" y="30.34" width="0.9" height="14.23" fill="#26a69a" fill-opacity="0.75"/>
<rect x="774.33" y="37.97" width="1.3" height="5.03" fill="#26a69a"/>
<rect x="776.74" y="30.49" width="0.9" height="14.29" fill="#26a69a" fill-opacity="0.75"/>
<rect x="776.54" y="33.52" width="1.3" height="9.52" fill="#26a69a"/>
<rect x="778.95" y="31.27" width="0.9" height="14.13" fill="#26a69a" fill-opacity="0.75"/>
<rect x="778.75" y="31.87" width="1.3" height="4.81" fill="#26a69a"/></g>
</g>
<!-- left border & toolbar -->
<rect x="0" y="0" width="2" height="460" fill="#e0e3eb"/>
<rect x="0" y="0" width="1000" height="38" fill="#ffffff"/>
<rect x="0" y="0" width="1000" height="1" fill="#eef0f3"/>
<rect x="0" y="37.6" width="1000" height="1.4" fill="#e0e3eb"/>
<rect x="0" y="0" width="2" height="38" fill="#e0e3eb"/>
<g fill="#e0e3eb">
<rect x="103" y="0" width="1" height="38"/>
<rect x="141" y="0" width="1" height="38"/>
<rect x="180" y="0" width="1" height="38"/>
<rect x="279" y="0" width="1" height="38"/>
<rect x="399" y="0" width="1" height="38"/>
<rect x="463" y="0" width="1" height="38"/>
<rect x="553" y="0" width="1" height="38"/>
<rect x="633" y="0" width="1" height="38"/>
<rect x="923" y="0" width="1" height="38"/>
<rect x="962" y="0" width="1" height="38"/>
</g>
<text x="11.5" y="23.8" class="tb" style="font-weight:bold">VNM</text>
<text x="116" y="23.6" class="tb">W</text>
<g stroke="#131722" stroke-width="1" fill="none">
<rect x="155.5" y="12.5" width="4" height="13.5"/>
<line x1="157.5" y1="9" x2="157.5" y2="12.5"/><line x1="157.5" y1="26" x2="157.5" y2="29"/>
<rect x="163.5" y="15.5" width="4" height="7"/>
<line x1="165.5" y1="12" x2="165.5" y2="15.5"/><line x1="165.5" y1="22.5" x2="165.5" y2="26"/>
</g>
<g stroke="#131722" stroke-width="1.2" fill="none">
<circle cx="199.8" cy="19.5" r="9.3"/>
<line x1="195.3" y1="19.5" x2="204.3" y2="19.5"/><line x1="199.8" y1="15" x2="199.8" y2="24"/>
</g>
<text x="217" y="23.6" class="tb">So sánh</text>
<g stroke="#131722" stroke-width="1.2" fill="none" stroke-linecap="round">
<path d="M302.5,11.5 C300,9.5 297.5,10.5 297.3,13.5 L296.8,24.5 C296.6,27 294,27.5 291.5,26"/>
<line x1="293.5" y1="16.5" x2="299.5" y2="16.5"/>
<line x1="299.8" y1="22.3" x2="304.2" y2="26.7"/><line x1="304.2" y1="22.3" x2="299.8" y2="26.7"/>
</g>
<text x="314.8" y="23.6" class="tb">Các chỉ báo</text>
<g stroke="#131722" stroke-width="1.2" fill="none" stroke-linecap="round" stroke-linejoin="round">
<path d="M414.5,13.8 L410.5,17.8 L414.5,21.8"/>
<path d="M410.8,17.8 L418.5,17.8 C421.8,17.8 423.8,20 423.8,23.5"/>
</g>
<g stroke="#b2b5be" stroke-width="1.2" fill="none" stroke-linecap="round" stroke-linejoin="round">
<path d="M447.5,13.8 L451.5,17.8 L447.5,21.8"/>
<path d="M451.2,17.8 L443.5,17.8 C440.2,17.8 438.2,20 438.2,23.5"/>
</g>
<text x="474" y="23.6" class="tb">Biểu đồ</text>
<path d="M531,17 L535.2,21 L539.4,17" stroke="#131722" stroke-width="1.3" fill="none" stroke-linecap="round"/>
<text x="564.7" y="23.6" class="tb">Hồ sơ</text>
<path d="M611.8,17 L616,21 L620.2,17" stroke="#131722" stroke-width="1.3" fill="none" stroke-linecap="round"/>
<g stroke="#131722" stroke-width="1.05" fill="none" stroke-linecap="round" stroke-linejoin="round">
<path d="M935,11.5 L939.5,16"/><path d="M935,15.5 L935,11.5 L939,11.5"/>
<path d="M951,11.5 L946.5,16"/><path d="M951,15.5 L951,11.5 L947,11.5"/>
<path d="M935,26.5 L939.5,22"/><path d="M935,22.5 L935,26.5 L939,26.5"/>
<path d="M951,26.5 L946.5,22"/><path d="M951,22.5 L951,26.5 L947,26.5"/>
</g>
<g fill="#50535c" stroke="#50535c">
<line x1="976.8" y1="19.2" x2="986.5" y2="13.6" stroke-width="1.8"/>
<line x1="976.8" y1="19.2" x2="986.5" y2="24.6" stroke-width="1.8"/>
<circle cx="976.8" cy="19.2" r="2.9" stroke="none"/>
<circle cx="986.5" cy="13.6" r="2.8" stroke="none"/>
<circle cx="986.5" cy="24.6" r="2.8" stroke="none"/>
</g>
<!-- legend -->
<text x="11.5" y="61.2" style="font-size:16px;fill:#131722">CTCP Sữa Việt Nam</text>
<circle cx="165.8" cy="56.2" r="0.9" fill="#787b86"/>
<text x="173.5" y="61.2" style="font-size:16px;fill:#131722" textLength="21.5" lengthAdjust="spacingAndGlyphs">1W</text>
<circle cx="202" cy="56.2" r="0.9" fill="#787b86"/>
<text x="208.7" y="61.2" style="font-size:16px;fill:#131722">HSX</text>
<circle cx="266" cy="55.4" r="9" fill="#e3efed"/>
<circle cx="266" cy="55.4" r="4" fill="#3a8f80"/>
<text y="61.2" class="lg"><tspan x="291.6" class="gray">O</tspan><tspan class="red">68.40</tspan><tspan x="341" class="gray">H</tspan><tspan class="red">68.40</tspan><tspan x="390.7" class="gray">L</tspan><tspan class="red">65.40</tspan><tspan x="438" class="gray">C</tspan><tspan class="red">66.20</tspan><tspan x="487.7" class="red">−3.30</tspan><tspan x="523.7" class="red">(−4.75%)</tspan></text>
<text x="11.9" y="84" class="lg">Volume - Khối lượng</text>
<text x="139.6" y="84" class="lg red">2.919M</text>
<text x="11.5" y="108.5" class="lg" style="fill:#b2b5be">BB 20 2</text>
<g stroke="#2a2e39" stroke-width="1.15" fill="none" stroke-linecap="round">
<path d="M68.6,103.9 C71.2,97.2 80.8,97.2 83.4,103.9 C80.8,110.6 71.2,110.6 68.6,103.9 Z"/>
<circle cx="76" cy="103.9" r="2.7"/>
<line x1="70" y1="109.8" x2="81.8" y2="98" stroke="#fff" stroke-width="2.8"/>
<line x1="70" y1="109.8" x2="81.8" y2="98"/>
</g>
<rect x="11.7" y="118.7" width="27.8" height="19.6" rx="3" fill="#fff" stroke="#e0e3eb" stroke-width="1"/>
<path d="M21.8,130.5 L25.8,126.6 L29.8,130.5" stroke="#131722" stroke-width="1.6" fill="none" stroke-linecap="round" stroke-linejoin="round"/>
<!-- price axis -->
<rect x="943.8" y="39" width="1" height="416" fill="#e4e5e8"/>
<rect x="945" y="61.45" width="4" height="1.1" fill="#d3d5da"/>
<text x="953.6" y="66.2" class="ax" textLength="29.6" lengthAdjust="spacingAndGlyphs">70.00</text>
<rect x="945" y="96.78" width="4" height="1.1" fill="#d3d5da"/>
<text x="953.6" y="101.5" class="ax" textLength="29.6" lengthAdjust="spacingAndGlyphs">65.00</text>
<rect x="945" y="132.10" width="4" height="1.1" fill="#d3d5da"/>
<text x="953.6" y="136.8" class="ax" textLength="29.6" lengthAdjust="spacingAndGlyphs">60.00</text>
<rect x="945" y="167.43" width="4" height="1.1" fill="#d3d5da"/>
<text x="953.6" y="172.2" class="ax" textLength="29.6" lengthAdjust="spacingAndGlyphs">55.00</text>
<rect x="945" y="202.75" width="4" height="1.1" fill="#d3d5da"/>
<text x="953.6" y="207.5" class="ax" textLength="29.6" lengthAdjust="spacingAndGlyphs">50.00</text>
<rect x="945" y="238.07" width="4" height="1.1" fill="#d3d5da"/>
<text x="953.6" y="242.8" class="ax" textLength="29.6" lengthAdjust="spacingAndGlyphs">45.00</text>
<rect x="945" y="273.40" width="4" height="1.1" fill="#d3d5da"/>
<text x="953.6" y="278.2" class="ax" textLength="29.6" lengthAdjust="spacingAndGlyphs">40.00</text>
<rect x="945" y="308.72" width="4" height="1.1" fill="#d3d5da"/>
<text x="953.6" y="313.5" class="ax" textLength="29.6" lengthAdjust="spacingAndGlyphs">35.00</text>
<rect x="945" y="344.05" width="4" height="1.1" fill="#d3d5da"/>
<text x="953.6" y="348.8" class="ax" textLength="29.6" lengthAdjust="spacingAndGlyphs">30.00</text>
<rect x="945" y="379.38" width="4" height="1.1" fill="#d3d5da"/>
<text x="953.6" y="384.1" class="ax" textLength="29.6" lengthAdjust="spacingAndGlyphs">25.00</text>
<rect x="945" y="414.70" width="4" height="1.1" fill="#d3d5da"/>
<text x="953.6" y="419.4" class="ax" textLength="29.6" lengthAdjust="spacingAndGlyphs">20.00</text>
<rect x="945" y="450.03" width="4" height="1.1" fill="#d3d5da"/>
<text x="953.6" y="454.8" class="ax" textLength="29.6" lengthAdjust="spacingAndGlyphs">15.00</text>
<rect x="944" y="80.2" width="46" height="16.5" rx="2" fill="#e0524f"/>
<text x="953.6" y="93.1" class="ax" style="fill:#fff" textLength="29.6" lengthAdjust="spacingAndGlyphs">66.20</text>
</svg>
</body></html>
